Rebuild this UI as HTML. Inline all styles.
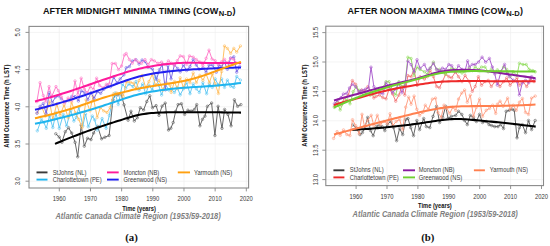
<!DOCTYPE html>
<html><head><meta charset="utf-8"><style>
html,body{margin:0;padding:0;background:#fff;width:550px;height:246px;overflow:hidden}
svg{display:block}
</style></head><body>
<svg width="550" height="246" viewBox="0 0 550 246" font-family='"Liberation Sans", sans-serif'>
<rect width="550" height="246" fill="#fff"/>
<line x1="59.30" y1="26.4" x2="59.30" y2="188.0" stroke="#efefef" stroke-width="0.7"/>
<line x1="90.47" y1="26.4" x2="90.47" y2="188.0" stroke="#efefef" stroke-width="0.7"/>
<line x1="121.64" y1="26.4" x2="121.64" y2="188.0" stroke="#efefef" stroke-width="0.7"/>
<line x1="152.81" y1="26.4" x2="152.81" y2="188.0" stroke="#efefef" stroke-width="0.7"/>
<line x1="183.98" y1="26.4" x2="183.98" y2="188.0" stroke="#efefef" stroke-width="0.7"/>
<line x1="215.15" y1="26.4" x2="215.15" y2="188.0" stroke="#efefef" stroke-width="0.7"/>
<line x1="246.32" y1="26.4" x2="246.32" y2="188.0" stroke="#efefef" stroke-width="0.7"/>
<line x1="29" y1="181.20" x2="248.6" y2="181.20" stroke="#efefef" stroke-width="0.7"/>
<line x1="29" y1="144.00" x2="248.6" y2="144.00" stroke="#efefef" stroke-width="0.7"/>
<line x1="29" y1="106.80" x2="248.6" y2="106.80" stroke="#efefef" stroke-width="0.7"/>
<line x1="29" y1="69.60" x2="248.6" y2="69.60" stroke="#efefef" stroke-width="0.7"/>
<line x1="29" y1="32.40" x2="248.6" y2="32.40" stroke="#efefef" stroke-width="0.7"/>
<rect x="29" y="26.4" width="219.6" height="161.6" fill="none" stroke="#8a8a8a" stroke-width="1.1"/>
<line x1="59.30" y1="188.0" x2="59.30" y2="191.4" stroke="#888" stroke-width="0.9"/>
<text transform="translate(59.30,200.5) scale(1,1.2)" font-size="5.9" fill="#3a3a3a" text-anchor="middle">1960</text>
<line x1="90.47" y1="188.0" x2="90.47" y2="191.4" stroke="#888" stroke-width="0.9"/>
<text transform="translate(90.47,200.5) scale(1,1.2)" font-size="5.9" fill="#3a3a3a" text-anchor="middle">1970</text>
<line x1="121.64" y1="188.0" x2="121.64" y2="191.4" stroke="#888" stroke-width="0.9"/>
<text transform="translate(121.64,200.5) scale(1,1.2)" font-size="5.9" fill="#3a3a3a" text-anchor="middle">1980</text>
<line x1="152.81" y1="188.0" x2="152.81" y2="191.4" stroke="#888" stroke-width="0.9"/>
<text transform="translate(152.81,200.5) scale(1,1.2)" font-size="5.9" fill="#3a3a3a" text-anchor="middle">1990</text>
<line x1="183.98" y1="188.0" x2="183.98" y2="191.4" stroke="#888" stroke-width="0.9"/>
<text transform="translate(183.98,200.5) scale(1,1.2)" font-size="5.9" fill="#3a3a3a" text-anchor="middle">2000</text>
<line x1="215.15" y1="188.0" x2="215.15" y2="191.4" stroke="#888" stroke-width="0.9"/>
<text transform="translate(215.15,200.5) scale(1,1.2)" font-size="5.9" fill="#3a3a3a" text-anchor="middle">2010</text>
<line x1="246.32" y1="188.0" x2="246.32" y2="191.4" stroke="#888" stroke-width="0.9"/>
<text transform="translate(246.32,200.5) scale(1,1.2)" font-size="5.9" fill="#3a3a3a" text-anchor="middle">2020</text>
<line x1="25.5" y1="181.20" x2="29" y2="181.20" stroke="#888" stroke-width="0.9"/>
<text transform="translate(19.8,181.20) rotate(-90) scale(1,1.2)" font-size="5.9" fill="#3a3a3a" text-anchor="middle">3.0</text>
<line x1="25.5" y1="144.00" x2="29" y2="144.00" stroke="#888" stroke-width="0.9"/>
<text transform="translate(19.8,144.00) rotate(-90) scale(1,1.2)" font-size="5.9" fill="#3a3a3a" text-anchor="middle">3.5</text>
<line x1="25.5" y1="106.80" x2="29" y2="106.80" stroke="#888" stroke-width="0.9"/>
<text transform="translate(19.8,106.80) rotate(-90) scale(1,1.2)" font-size="5.9" fill="#3a3a3a" text-anchor="middle">4.0</text>
<line x1="25.5" y1="69.60" x2="29" y2="69.60" stroke="#888" stroke-width="0.9"/>
<text transform="translate(19.8,69.60) rotate(-90) scale(1,1.2)" font-size="5.9" fill="#3a3a3a" text-anchor="middle">4.5</text>
<line x1="25.5" y1="32.40" x2="29" y2="32.40" stroke="#888" stroke-width="0.9"/>
<text transform="translate(19.8,32.40) rotate(-90) scale(1,1.2)" font-size="5.9" fill="#3a3a3a" text-anchor="middle">5.0</text>
<path d="M55.80,133.80 L59.20,137.00 L61.90,142.30 L65.30,131.70 L68.50,127.70 L71.70,133.00 L75.10,142.30 L77.70,156.80 L81.20,125.10 L84.30,146.20 L87.50,138.30 L91.00,139.60 L93.60,133.00 L97.60,126.40 L101.60,138.80 L104.90,137.20 L109.10,135.50 L113.00,99.80 L115.45,94.54 L117.90,94.90 L121.10,93.90 L124.00,104.80 L128.10,120.20 L131.00,111.30 L134.30,121.00 L137.30,117.73 L140.30,107.70 L143.60,110.00 L146.80,101.50 L149.80,95.80 L152.50,107.70 L156.10,105.60 L159.00,115.30 L162.10,106.07 L165.20,103.10 L168.50,130.00 L170.85,128.22 L173.20,122.50 L175.65,111.42 L178.10,104.60 L181.40,103.70 L184.60,114.40 L187.90,110.20 L191.10,111.10 L194.40,109.50 L196.70,104.60 L199.90,125.80 L202.50,119.30 L204.95,116.13 L207.40,106.30 L211.60,103.00 L214.90,135.50 L218.10,106.30 L222.00,128.40 L224.60,109.50 L227.90,114.40 L231.10,125.80 L234.40,99.80 L237.60,106.30 L240.90,104.60" fill="none" stroke="#5e5e5e" stroke-width="0.95"/>
<circle cx="55.80" cy="133.80" r="1.25" fill="none" stroke="#5e5e5e" stroke-width="0.6"/>
<circle cx="59.20" cy="137.00" r="1.25" fill="none" stroke="#5e5e5e" stroke-width="0.6"/>
<circle cx="61.90" cy="142.30" r="1.25" fill="none" stroke="#5e5e5e" stroke-width="0.6"/>
<circle cx="65.30" cy="131.70" r="1.25" fill="none" stroke="#5e5e5e" stroke-width="0.6"/>
<circle cx="68.50" cy="127.70" r="1.25" fill="none" stroke="#5e5e5e" stroke-width="0.6"/>
<circle cx="71.70" cy="133.00" r="1.25" fill="none" stroke="#5e5e5e" stroke-width="0.6"/>
<circle cx="75.10" cy="142.30" r="1.25" fill="none" stroke="#5e5e5e" stroke-width="0.6"/>
<circle cx="77.70" cy="156.80" r="1.25" fill="none" stroke="#5e5e5e" stroke-width="0.6"/>
<circle cx="81.20" cy="125.10" r="1.25" fill="none" stroke="#5e5e5e" stroke-width="0.6"/>
<circle cx="84.30" cy="146.20" r="1.25" fill="none" stroke="#5e5e5e" stroke-width="0.6"/>
<circle cx="87.50" cy="138.30" r="1.25" fill="none" stroke="#5e5e5e" stroke-width="0.6"/>
<circle cx="91.00" cy="139.60" r="1.25" fill="none" stroke="#5e5e5e" stroke-width="0.6"/>
<circle cx="93.60" cy="133.00" r="1.25" fill="none" stroke="#5e5e5e" stroke-width="0.6"/>
<circle cx="97.60" cy="126.40" r="1.25" fill="none" stroke="#5e5e5e" stroke-width="0.6"/>
<circle cx="101.60" cy="138.80" r="1.25" fill="none" stroke="#5e5e5e" stroke-width="0.6"/>
<circle cx="104.90" cy="137.20" r="1.25" fill="none" stroke="#5e5e5e" stroke-width="0.6"/>
<circle cx="109.10" cy="135.50" r="1.25" fill="none" stroke="#5e5e5e" stroke-width="0.6"/>
<circle cx="113.00" cy="99.80" r="1.25" fill="none" stroke="#5e5e5e" stroke-width="0.6"/>
<circle cx="115.45" cy="94.54" r="1.25" fill="none" stroke="#5e5e5e" stroke-width="0.6"/>
<circle cx="117.90" cy="94.90" r="1.25" fill="none" stroke="#5e5e5e" stroke-width="0.6"/>
<circle cx="121.10" cy="93.90" r="1.25" fill="none" stroke="#5e5e5e" stroke-width="0.6"/>
<circle cx="124.00" cy="104.80" r="1.25" fill="none" stroke="#5e5e5e" stroke-width="0.6"/>
<circle cx="128.10" cy="120.20" r="1.25" fill="none" stroke="#5e5e5e" stroke-width="0.6"/>
<circle cx="131.00" cy="111.30" r="1.25" fill="none" stroke="#5e5e5e" stroke-width="0.6"/>
<circle cx="134.30" cy="121.00" r="1.25" fill="none" stroke="#5e5e5e" stroke-width="0.6"/>
<circle cx="137.30" cy="117.73" r="1.25" fill="none" stroke="#5e5e5e" stroke-width="0.6"/>
<circle cx="140.30" cy="107.70" r="1.25" fill="none" stroke="#5e5e5e" stroke-width="0.6"/>
<circle cx="143.60" cy="110.00" r="1.25" fill="none" stroke="#5e5e5e" stroke-width="0.6"/>
<circle cx="146.80" cy="101.50" r="1.25" fill="none" stroke="#5e5e5e" stroke-width="0.6"/>
<circle cx="149.80" cy="95.80" r="1.25" fill="none" stroke="#5e5e5e" stroke-width="0.6"/>
<circle cx="152.50" cy="107.70" r="1.25" fill="none" stroke="#5e5e5e" stroke-width="0.6"/>
<circle cx="156.10" cy="105.60" r="1.25" fill="none" stroke="#5e5e5e" stroke-width="0.6"/>
<circle cx="159.00" cy="115.30" r="1.25" fill="none" stroke="#5e5e5e" stroke-width="0.6"/>
<circle cx="162.10" cy="106.07" r="1.25" fill="none" stroke="#5e5e5e" stroke-width="0.6"/>
<circle cx="165.20" cy="103.10" r="1.25" fill="none" stroke="#5e5e5e" stroke-width="0.6"/>
<circle cx="168.50" cy="130.00" r="1.25" fill="none" stroke="#5e5e5e" stroke-width="0.6"/>
<circle cx="170.85" cy="128.22" r="1.25" fill="none" stroke="#5e5e5e" stroke-width="0.6"/>
<circle cx="173.20" cy="122.50" r="1.25" fill="none" stroke="#5e5e5e" stroke-width="0.6"/>
<circle cx="175.65" cy="111.42" r="1.25" fill="none" stroke="#5e5e5e" stroke-width="0.6"/>
<circle cx="178.10" cy="104.60" r="1.25" fill="none" stroke="#5e5e5e" stroke-width="0.6"/>
<circle cx="181.40" cy="103.70" r="1.25" fill="none" stroke="#5e5e5e" stroke-width="0.6"/>
<circle cx="184.60" cy="114.40" r="1.25" fill="none" stroke="#5e5e5e" stroke-width="0.6"/>
<circle cx="187.90" cy="110.20" r="1.25" fill="none" stroke="#5e5e5e" stroke-width="0.6"/>
<circle cx="191.10" cy="111.10" r="1.25" fill="none" stroke="#5e5e5e" stroke-width="0.6"/>
<circle cx="194.40" cy="109.50" r="1.25" fill="none" stroke="#5e5e5e" stroke-width="0.6"/>
<circle cx="196.70" cy="104.60" r="1.25" fill="none" stroke="#5e5e5e" stroke-width="0.6"/>
<circle cx="199.90" cy="125.80" r="1.25" fill="none" stroke="#5e5e5e" stroke-width="0.6"/>
<circle cx="202.50" cy="119.30" r="1.25" fill="none" stroke="#5e5e5e" stroke-width="0.6"/>
<circle cx="204.95" cy="116.13" r="1.25" fill="none" stroke="#5e5e5e" stroke-width="0.6"/>
<circle cx="207.40" cy="106.30" r="1.25" fill="none" stroke="#5e5e5e" stroke-width="0.6"/>
<circle cx="211.60" cy="103.00" r="1.25" fill="none" stroke="#5e5e5e" stroke-width="0.6"/>
<circle cx="214.90" cy="135.50" r="1.25" fill="none" stroke="#5e5e5e" stroke-width="0.6"/>
<circle cx="218.10" cy="106.30" r="1.25" fill="none" stroke="#5e5e5e" stroke-width="0.6"/>
<circle cx="222.00" cy="128.40" r="1.25" fill="none" stroke="#5e5e5e" stroke-width="0.6"/>
<circle cx="224.60" cy="109.50" r="1.25" fill="none" stroke="#5e5e5e" stroke-width="0.6"/>
<circle cx="227.90" cy="114.40" r="1.25" fill="none" stroke="#5e5e5e" stroke-width="0.6"/>
<circle cx="231.10" cy="125.80" r="1.25" fill="none" stroke="#5e5e5e" stroke-width="0.6"/>
<circle cx="234.40" cy="99.80" r="1.25" fill="none" stroke="#5e5e5e" stroke-width="0.6"/>
<circle cx="237.60" cy="106.30" r="1.25" fill="none" stroke="#5e5e5e" stroke-width="0.6"/>
<circle cx="240.90" cy="104.60" r="1.25" fill="none" stroke="#5e5e5e" stroke-width="0.6"/>
<path d="M37.30,130.80 L41.40,119.40 L43.85,122.34 L46.30,128.30 L49.50,116.10 L52.80,127.50 L56.00,112.90 L59.30,128.30 L63.30,114.50 L66.60,125.90 L70.70,110.40 L73.90,121.00 L76.35,117.32 L78.80,107.20 L82.80,125.90 L85.50,114.00 L88.30,126.70 L92.30,116.10 L94.75,119.88 L97.20,130.00 L99.65,126.78 L102.10,118.60 L106.10,128.30 L109.40,115.30 L111.50,104.80 L115.10,93.00 L118.30,104.40 L122.40,84.10 L125.70,88.10 L128.90,84.10 L133.00,86.50 L136.00,81.60 L139.10,90.10 L142.60,84.00 L145.70,93.80 L148.90,85.20 L152.30,90.10 L155.50,76.70 L158.70,85.20 L161.60,95.00 L165.20,84.00 L168.90,90.10 L171.20,88.80 L174.40,92.40 L177.30,87.60 L180.20,94.90 L183.40,88.80 L186.60,82.70 L190.00,93.70 L193.20,83.90 L196.30,88.80 L199.30,92.40 L202.90,82.70 L206.60,93.70 L209.40,83.80 L212.30,87.40 L215.20,78.90 L218.40,85.00 L221.60,78.90 L224.50,87.40 L227.40,80.10 L230.60,86.20 L233.80,87.40 L236.70,76.50 L240.40,80.10" fill="none" stroke="#5cc6f2" stroke-width="0.95"/>
<circle cx="37.30" cy="130.80" r="1.25" fill="none" stroke="#5cc6f2" stroke-width="0.6"/>
<circle cx="41.40" cy="119.40" r="1.25" fill="none" stroke="#5cc6f2" stroke-width="0.6"/>
<circle cx="43.85" cy="122.34" r="1.25" fill="none" stroke="#5cc6f2" stroke-width="0.6"/>
<circle cx="46.30" cy="128.30" r="1.25" fill="none" stroke="#5cc6f2" stroke-width="0.6"/>
<circle cx="49.50" cy="116.10" r="1.25" fill="none" stroke="#5cc6f2" stroke-width="0.6"/>
<circle cx="52.80" cy="127.50" r="1.25" fill="none" stroke="#5cc6f2" stroke-width="0.6"/>
<circle cx="56.00" cy="112.90" r="1.25" fill="none" stroke="#5cc6f2" stroke-width="0.6"/>
<circle cx="59.30" cy="128.30" r="1.25" fill="none" stroke="#5cc6f2" stroke-width="0.6"/>
<circle cx="63.30" cy="114.50" r="1.25" fill="none" stroke="#5cc6f2" stroke-width="0.6"/>
<circle cx="66.60" cy="125.90" r="1.25" fill="none" stroke="#5cc6f2" stroke-width="0.6"/>
<circle cx="70.70" cy="110.40" r="1.25" fill="none" stroke="#5cc6f2" stroke-width="0.6"/>
<circle cx="73.90" cy="121.00" r="1.25" fill="none" stroke="#5cc6f2" stroke-width="0.6"/>
<circle cx="76.35" cy="117.32" r="1.25" fill="none" stroke="#5cc6f2" stroke-width="0.6"/>
<circle cx="78.80" cy="107.20" r="1.25" fill="none" stroke="#5cc6f2" stroke-width="0.6"/>
<circle cx="82.80" cy="125.90" r="1.25" fill="none" stroke="#5cc6f2" stroke-width="0.6"/>
<circle cx="85.50" cy="114.00" r="1.25" fill="none" stroke="#5cc6f2" stroke-width="0.6"/>
<circle cx="88.30" cy="126.70" r="1.25" fill="none" stroke="#5cc6f2" stroke-width="0.6"/>
<circle cx="92.30" cy="116.10" r="1.25" fill="none" stroke="#5cc6f2" stroke-width="0.6"/>
<circle cx="94.75" cy="119.88" r="1.25" fill="none" stroke="#5cc6f2" stroke-width="0.6"/>
<circle cx="97.20" cy="130.00" r="1.25" fill="none" stroke="#5cc6f2" stroke-width="0.6"/>
<circle cx="99.65" cy="126.78" r="1.25" fill="none" stroke="#5cc6f2" stroke-width="0.6"/>
<circle cx="102.10" cy="118.60" r="1.25" fill="none" stroke="#5cc6f2" stroke-width="0.6"/>
<circle cx="106.10" cy="128.30" r="1.25" fill="none" stroke="#5cc6f2" stroke-width="0.6"/>
<circle cx="109.40" cy="115.30" r="1.25" fill="none" stroke="#5cc6f2" stroke-width="0.6"/>
<circle cx="111.50" cy="104.80" r="1.25" fill="none" stroke="#5cc6f2" stroke-width="0.6"/>
<circle cx="115.10" cy="93.00" r="1.25" fill="none" stroke="#5cc6f2" stroke-width="0.6"/>
<circle cx="118.30" cy="104.40" r="1.25" fill="none" stroke="#5cc6f2" stroke-width="0.6"/>
<circle cx="122.40" cy="84.10" r="1.25" fill="none" stroke="#5cc6f2" stroke-width="0.6"/>
<circle cx="125.70" cy="88.10" r="1.25" fill="none" stroke="#5cc6f2" stroke-width="0.6"/>
<circle cx="128.90" cy="84.10" r="1.25" fill="none" stroke="#5cc6f2" stroke-width="0.6"/>
<circle cx="133.00" cy="86.50" r="1.25" fill="none" stroke="#5cc6f2" stroke-width="0.6"/>
<circle cx="136.00" cy="81.60" r="1.25" fill="none" stroke="#5cc6f2" stroke-width="0.6"/>
<circle cx="139.10" cy="90.10" r="1.25" fill="none" stroke="#5cc6f2" stroke-width="0.6"/>
<circle cx="142.60" cy="84.00" r="1.25" fill="none" stroke="#5cc6f2" stroke-width="0.6"/>
<circle cx="145.70" cy="93.80" r="1.25" fill="none" stroke="#5cc6f2" stroke-width="0.6"/>
<circle cx="148.90" cy="85.20" r="1.25" fill="none" stroke="#5cc6f2" stroke-width="0.6"/>
<circle cx="152.30" cy="90.10" r="1.25" fill="none" stroke="#5cc6f2" stroke-width="0.6"/>
<circle cx="155.50" cy="76.70" r="1.25" fill="none" stroke="#5cc6f2" stroke-width="0.6"/>
<circle cx="158.70" cy="85.20" r="1.25" fill="none" stroke="#5cc6f2" stroke-width="0.6"/>
<circle cx="161.60" cy="95.00" r="1.25" fill="none" stroke="#5cc6f2" stroke-width="0.6"/>
<circle cx="165.20" cy="84.00" r="1.25" fill="none" stroke="#5cc6f2" stroke-width="0.6"/>
<circle cx="168.90" cy="90.10" r="1.25" fill="none" stroke="#5cc6f2" stroke-width="0.6"/>
<circle cx="171.20" cy="88.80" r="1.25" fill="none" stroke="#5cc6f2" stroke-width="0.6"/>
<circle cx="174.40" cy="92.40" r="1.25" fill="none" stroke="#5cc6f2" stroke-width="0.6"/>
<circle cx="177.30" cy="87.60" r="1.25" fill="none" stroke="#5cc6f2" stroke-width="0.6"/>
<circle cx="180.20" cy="94.90" r="1.25" fill="none" stroke="#5cc6f2" stroke-width="0.6"/>
<circle cx="183.40" cy="88.80" r="1.25" fill="none" stroke="#5cc6f2" stroke-width="0.6"/>
<circle cx="186.60" cy="82.70" r="1.25" fill="none" stroke="#5cc6f2" stroke-width="0.6"/>
<circle cx="190.00" cy="93.70" r="1.25" fill="none" stroke="#5cc6f2" stroke-width="0.6"/>
<circle cx="193.20" cy="83.90" r="1.25" fill="none" stroke="#5cc6f2" stroke-width="0.6"/>
<circle cx="196.30" cy="88.80" r="1.25" fill="none" stroke="#5cc6f2" stroke-width="0.6"/>
<circle cx="199.30" cy="92.40" r="1.25" fill="none" stroke="#5cc6f2" stroke-width="0.6"/>
<circle cx="202.90" cy="82.70" r="1.25" fill="none" stroke="#5cc6f2" stroke-width="0.6"/>
<circle cx="206.60" cy="93.70" r="1.25" fill="none" stroke="#5cc6f2" stroke-width="0.6"/>
<circle cx="209.40" cy="83.80" r="1.25" fill="none" stroke="#5cc6f2" stroke-width="0.6"/>
<circle cx="212.30" cy="87.40" r="1.25" fill="none" stroke="#5cc6f2" stroke-width="0.6"/>
<circle cx="215.20" cy="78.90" r="1.25" fill="none" stroke="#5cc6f2" stroke-width="0.6"/>
<circle cx="218.40" cy="85.00" r="1.25" fill="none" stroke="#5cc6f2" stroke-width="0.6"/>
<circle cx="221.60" cy="78.90" r="1.25" fill="none" stroke="#5cc6f2" stroke-width="0.6"/>
<circle cx="224.50" cy="87.40" r="1.25" fill="none" stroke="#5cc6f2" stroke-width="0.6"/>
<circle cx="227.40" cy="80.10" r="1.25" fill="none" stroke="#5cc6f2" stroke-width="0.6"/>
<circle cx="230.60" cy="86.20" r="1.25" fill="none" stroke="#5cc6f2" stroke-width="0.6"/>
<circle cx="233.80" cy="87.40" r="1.25" fill="none" stroke="#5cc6f2" stroke-width="0.6"/>
<circle cx="236.70" cy="76.50" r="1.25" fill="none" stroke="#5cc6f2" stroke-width="0.6"/>
<circle cx="240.40" cy="80.10" r="1.25" fill="none" stroke="#5cc6f2" stroke-width="0.6"/>
<path d="M37.30,112.90 L39.75,108.31 L42.20,108.00 L45.40,116.10 L49.50,101.50 L52.80,119.40 L56.80,103.90 L60.10,115.30 L64.10,104.80 L68.20,117.80 L71.50,102.30 L75.50,112.90 L78.80,119.40 L82.00,127.50 L86.10,99.90 L89.90,110.90 L93.10,96.30 L97.20,117.40 L100.40,107.60 L103.70,110.90 L107.00,112.50 L110.20,107.60 L113.50,93.80 L116.70,93.00 L120.00,93.80 L123.20,96.30 L126.50,81.60 L130.50,82.40 L133.80,83.30 L136.00,88.90 L139.10,80.40 L142.10,75.50 L145.70,87.70 L148.90,81.60 L152.30,74.30 L155.50,85.20 L159.10,80.40 L162.80,90.10 L166.50,82.80 L170.10,85.20 L171.20,92.40 L174.40,81.50 L177.30,88.80 L180.20,77.80 L183.40,87.60 L186.60,79.00 L190.00,82.70 L193.20,72.90 L196.30,82.70 L199.80,75.40 L202.90,80.20 L206.10,74.10 L209.40,82.60 L212.30,74.00 L215.20,83.80 L218.40,93.50 L221.60,71.60 L224.50,46.00 L227.40,48.40 L230.60,53.30 L233.80,48.40 L236.70,52.10 L240.40,46.00" fill="none" stroke="#ffbd5c" stroke-width="0.95"/>
<circle cx="37.30" cy="112.90" r="1.25" fill="none" stroke="#ffbd5c" stroke-width="0.6"/>
<circle cx="39.75" cy="108.31" r="1.25" fill="none" stroke="#ffbd5c" stroke-width="0.6"/>
<circle cx="42.20" cy="108.00" r="1.25" fill="none" stroke="#ffbd5c" stroke-width="0.6"/>
<circle cx="45.40" cy="116.10" r="1.25" fill="none" stroke="#ffbd5c" stroke-width="0.6"/>
<circle cx="49.50" cy="101.50" r="1.25" fill="none" stroke="#ffbd5c" stroke-width="0.6"/>
<circle cx="52.80" cy="119.40" r="1.25" fill="none" stroke="#ffbd5c" stroke-width="0.6"/>
<circle cx="56.80" cy="103.90" r="1.25" fill="none" stroke="#ffbd5c" stroke-width="0.6"/>
<circle cx="60.10" cy="115.30" r="1.25" fill="none" stroke="#ffbd5c" stroke-width="0.6"/>
<circle cx="64.10" cy="104.80" r="1.25" fill="none" stroke="#ffbd5c" stroke-width="0.6"/>
<circle cx="68.20" cy="117.80" r="1.25" fill="none" stroke="#ffbd5c" stroke-width="0.6"/>
<circle cx="71.50" cy="102.30" r="1.25" fill="none" stroke="#ffbd5c" stroke-width="0.6"/>
<circle cx="75.50" cy="112.90" r="1.25" fill="none" stroke="#ffbd5c" stroke-width="0.6"/>
<circle cx="78.80" cy="119.40" r="1.25" fill="none" stroke="#ffbd5c" stroke-width="0.6"/>
<circle cx="82.00" cy="127.50" r="1.25" fill="none" stroke="#ffbd5c" stroke-width="0.6"/>
<circle cx="86.10" cy="99.90" r="1.25" fill="none" stroke="#ffbd5c" stroke-width="0.6"/>
<circle cx="89.90" cy="110.90" r="1.25" fill="none" stroke="#ffbd5c" stroke-width="0.6"/>
<circle cx="93.10" cy="96.30" r="1.25" fill="none" stroke="#ffbd5c" stroke-width="0.6"/>
<circle cx="97.20" cy="117.40" r="1.25" fill="none" stroke="#ffbd5c" stroke-width="0.6"/>
<circle cx="100.40" cy="107.60" r="1.25" fill="none" stroke="#ffbd5c" stroke-width="0.6"/>
<circle cx="103.70" cy="110.90" r="1.25" fill="none" stroke="#ffbd5c" stroke-width="0.6"/>
<circle cx="107.00" cy="112.50" r="1.25" fill="none" stroke="#ffbd5c" stroke-width="0.6"/>
<circle cx="110.20" cy="107.60" r="1.25" fill="none" stroke="#ffbd5c" stroke-width="0.6"/>
<circle cx="113.50" cy="93.80" r="1.25" fill="none" stroke="#ffbd5c" stroke-width="0.6"/>
<circle cx="116.70" cy="93.00" r="1.25" fill="none" stroke="#ffbd5c" stroke-width="0.6"/>
<circle cx="120.00" cy="93.80" r="1.25" fill="none" stroke="#ffbd5c" stroke-width="0.6"/>
<circle cx="123.20" cy="96.30" r="1.25" fill="none" stroke="#ffbd5c" stroke-width="0.6"/>
<circle cx="126.50" cy="81.60" r="1.25" fill="none" stroke="#ffbd5c" stroke-width="0.6"/>
<circle cx="130.50" cy="82.40" r="1.25" fill="none" stroke="#ffbd5c" stroke-width="0.6"/>
<circle cx="133.80" cy="83.30" r="1.25" fill="none" stroke="#ffbd5c" stroke-width="0.6"/>
<circle cx="136.00" cy="88.90" r="1.25" fill="none" stroke="#ffbd5c" stroke-width="0.6"/>
<circle cx="139.10" cy="80.40" r="1.25" fill="none" stroke="#ffbd5c" stroke-width="0.6"/>
<circle cx="142.10" cy="75.50" r="1.25" fill="none" stroke="#ffbd5c" stroke-width="0.6"/>
<circle cx="145.70" cy="87.70" r="1.25" fill="none" stroke="#ffbd5c" stroke-width="0.6"/>
<circle cx="148.90" cy="81.60" r="1.25" fill="none" stroke="#ffbd5c" stroke-width="0.6"/>
<circle cx="152.30" cy="74.30" r="1.25" fill="none" stroke="#ffbd5c" stroke-width="0.6"/>
<circle cx="155.50" cy="85.20" r="1.25" fill="none" stroke="#ffbd5c" stroke-width="0.6"/>
<circle cx="159.10" cy="80.40" r="1.25" fill="none" stroke="#ffbd5c" stroke-width="0.6"/>
<circle cx="162.80" cy="90.10" r="1.25" fill="none" stroke="#ffbd5c" stroke-width="0.6"/>
<circle cx="166.50" cy="82.80" r="1.25" fill="none" stroke="#ffbd5c" stroke-width="0.6"/>
<circle cx="170.10" cy="85.20" r="1.25" fill="none" stroke="#ffbd5c" stroke-width="0.6"/>
<circle cx="171.20" cy="92.40" r="1.25" fill="none" stroke="#ffbd5c" stroke-width="0.6"/>
<circle cx="174.40" cy="81.50" r="1.25" fill="none" stroke="#ffbd5c" stroke-width="0.6"/>
<circle cx="177.30" cy="88.80" r="1.25" fill="none" stroke="#ffbd5c" stroke-width="0.6"/>
<circle cx="180.20" cy="77.80" r="1.25" fill="none" stroke="#ffbd5c" stroke-width="0.6"/>
<circle cx="183.40" cy="87.60" r="1.25" fill="none" stroke="#ffbd5c" stroke-width="0.6"/>
<circle cx="186.60" cy="79.00" r="1.25" fill="none" stroke="#ffbd5c" stroke-width="0.6"/>
<circle cx="190.00" cy="82.70" r="1.25" fill="none" stroke="#ffbd5c" stroke-width="0.6"/>
<circle cx="193.20" cy="72.90" r="1.25" fill="none" stroke="#ffbd5c" stroke-width="0.6"/>
<circle cx="196.30" cy="82.70" r="1.25" fill="none" stroke="#ffbd5c" stroke-width="0.6"/>
<circle cx="199.80" cy="75.40" r="1.25" fill="none" stroke="#ffbd5c" stroke-width="0.6"/>
<circle cx="202.90" cy="80.20" r="1.25" fill="none" stroke="#ffbd5c" stroke-width="0.6"/>
<circle cx="206.10" cy="74.10" r="1.25" fill="none" stroke="#ffbd5c" stroke-width="0.6"/>
<circle cx="209.40" cy="82.60" r="1.25" fill="none" stroke="#ffbd5c" stroke-width="0.6"/>
<circle cx="212.30" cy="74.00" r="1.25" fill="none" stroke="#ffbd5c" stroke-width="0.6"/>
<circle cx="215.20" cy="83.80" r="1.25" fill="none" stroke="#ffbd5c" stroke-width="0.6"/>
<circle cx="218.40" cy="93.50" r="1.25" fill="none" stroke="#ffbd5c" stroke-width="0.6"/>
<circle cx="221.60" cy="71.60" r="1.25" fill="none" stroke="#ffbd5c" stroke-width="0.6"/>
<circle cx="224.50" cy="46.00" r="1.25" fill="none" stroke="#ffbd5c" stroke-width="0.6"/>
<circle cx="227.40" cy="48.40" r="1.25" fill="none" stroke="#ffbd5c" stroke-width="0.6"/>
<circle cx="230.60" cy="53.30" r="1.25" fill="none" stroke="#ffbd5c" stroke-width="0.6"/>
<circle cx="233.80" cy="48.40" r="1.25" fill="none" stroke="#ffbd5c" stroke-width="0.6"/>
<circle cx="236.70" cy="52.10" r="1.25" fill="none" stroke="#ffbd5c" stroke-width="0.6"/>
<circle cx="240.40" cy="46.00" r="1.25" fill="none" stroke="#ffbd5c" stroke-width="0.6"/>
<path d="M36.90,113.21 L40.10,106.32 L43.30,103.58 L46.20,113.58 L49.10,92.66 L52.30,102.57 L55.50,97.07 L58.40,95.81 L61.30,98.81 L65.20,101.75 L68.60,100.52 L71.80,96.42 L75.00,96.57 L78.40,100.99 L81.20,90.89 L84.40,92.43 L87.80,99.62 L91.00,92.77 L94.10,98.56 L97.10,91.71 L100.70,93.27 L103.90,89.19 L107.30,85.23 L110.50,86.78 L113.70,77.18 L117.10,82.89 L120.20,78.92 L123.90,74.86 L126.20,67.74 L129.40,66.52 L132.30,61.03 L136.00,59.81 L139.10,64.08 L142.10,60.05 L145.00,61.53 L148.20,67.26 L152.40,68.99 L156.50,79.43 L159.50,69.61 L162.20,64.61 L165.40,89.85 L167.90,65.63 L171.10,78.80 L174.40,64.82 L177.60,68.54 L180.20,71.91 L183.40,64.94 L186.60,70.61 L190.00,66.39 L193.20,59.40 L196.30,65.06 L199.30,69.34 L202.90,67.87 L206.10,72.15 L209.00,65.16 L212.70,65.18 L216.30,72.22 L218.80,65.22 L221.60,66.50 L224.50,62.26 L227.40,69.29 L230.60,58.15 L233.80,56.79 L236.70,72.21 L239.60,66.59" fill="none" stroke="#7565e6" stroke-width="0.95"/>
<circle cx="36.90" cy="113.21" r="1.25" fill="none" stroke="#7565e6" stroke-width="0.6"/>
<circle cx="40.10" cy="106.32" r="1.25" fill="none" stroke="#7565e6" stroke-width="0.6"/>
<circle cx="43.30" cy="103.58" r="1.25" fill="none" stroke="#7565e6" stroke-width="0.6"/>
<circle cx="46.20" cy="113.58" r="1.25" fill="none" stroke="#7565e6" stroke-width="0.6"/>
<circle cx="49.10" cy="92.66" r="1.25" fill="none" stroke="#7565e6" stroke-width="0.6"/>
<circle cx="52.30" cy="102.57" r="1.25" fill="none" stroke="#7565e6" stroke-width="0.6"/>
<circle cx="55.50" cy="97.07" r="1.25" fill="none" stroke="#7565e6" stroke-width="0.6"/>
<circle cx="58.40" cy="95.81" r="1.25" fill="none" stroke="#7565e6" stroke-width="0.6"/>
<circle cx="61.30" cy="98.81" r="1.25" fill="none" stroke="#7565e6" stroke-width="0.6"/>
<circle cx="65.20" cy="101.75" r="1.25" fill="none" stroke="#7565e6" stroke-width="0.6"/>
<circle cx="68.60" cy="100.52" r="1.25" fill="none" stroke="#7565e6" stroke-width="0.6"/>
<circle cx="71.80" cy="96.42" r="1.25" fill="none" stroke="#7565e6" stroke-width="0.6"/>
<circle cx="75.00" cy="96.57" r="1.25" fill="none" stroke="#7565e6" stroke-width="0.6"/>
<circle cx="78.40" cy="100.99" r="1.25" fill="none" stroke="#7565e6" stroke-width="0.6"/>
<circle cx="81.20" cy="90.89" r="1.25" fill="none" stroke="#7565e6" stroke-width="0.6"/>
<circle cx="84.40" cy="92.43" r="1.25" fill="none" stroke="#7565e6" stroke-width="0.6"/>
<circle cx="87.80" cy="99.62" r="1.25" fill="none" stroke="#7565e6" stroke-width="0.6"/>
<circle cx="91.00" cy="92.77" r="1.25" fill="none" stroke="#7565e6" stroke-width="0.6"/>
<circle cx="94.10" cy="98.56" r="1.25" fill="none" stroke="#7565e6" stroke-width="0.6"/>
<circle cx="97.10" cy="91.71" r="1.25" fill="none" stroke="#7565e6" stroke-width="0.6"/>
<circle cx="100.70" cy="93.27" r="1.25" fill="none" stroke="#7565e6" stroke-width="0.6"/>
<circle cx="103.90" cy="89.19" r="1.25" fill="none" stroke="#7565e6" stroke-width="0.6"/>
<circle cx="107.30" cy="85.23" r="1.25" fill="none" stroke="#7565e6" stroke-width="0.6"/>
<circle cx="110.50" cy="86.78" r="1.25" fill="none" stroke="#7565e6" stroke-width="0.6"/>
<circle cx="113.70" cy="77.18" r="1.25" fill="none" stroke="#7565e6" stroke-width="0.6"/>
<circle cx="117.10" cy="82.89" r="1.25" fill="none" stroke="#7565e6" stroke-width="0.6"/>
<circle cx="120.20" cy="78.92" r="1.25" fill="none" stroke="#7565e6" stroke-width="0.6"/>
<circle cx="123.90" cy="74.86" r="1.25" fill="none" stroke="#7565e6" stroke-width="0.6"/>
<circle cx="126.20" cy="67.74" r="1.25" fill="none" stroke="#7565e6" stroke-width="0.6"/>
<circle cx="129.40" cy="66.52" r="1.25" fill="none" stroke="#7565e6" stroke-width="0.6"/>
<circle cx="132.30" cy="61.03" r="1.25" fill="none" stroke="#7565e6" stroke-width="0.6"/>
<circle cx="136.00" cy="59.81" r="1.25" fill="none" stroke="#7565e6" stroke-width="0.6"/>
<circle cx="139.10" cy="64.08" r="1.25" fill="none" stroke="#7565e6" stroke-width="0.6"/>
<circle cx="142.10" cy="60.05" r="1.25" fill="none" stroke="#7565e6" stroke-width="0.6"/>
<circle cx="145.00" cy="61.53" r="1.25" fill="none" stroke="#7565e6" stroke-width="0.6"/>
<circle cx="148.20" cy="67.26" r="1.25" fill="none" stroke="#7565e6" stroke-width="0.6"/>
<circle cx="152.40" cy="68.99" r="1.25" fill="none" stroke="#7565e6" stroke-width="0.6"/>
<circle cx="156.50" cy="79.43" r="1.25" fill="none" stroke="#7565e6" stroke-width="0.6"/>
<circle cx="159.50" cy="69.61" r="1.25" fill="none" stroke="#7565e6" stroke-width="0.6"/>
<circle cx="162.20" cy="64.61" r="1.25" fill="none" stroke="#7565e6" stroke-width="0.6"/>
<circle cx="165.40" cy="89.85" r="1.25" fill="none" stroke="#7565e6" stroke-width="0.6"/>
<circle cx="167.90" cy="65.63" r="1.25" fill="none" stroke="#7565e6" stroke-width="0.6"/>
<circle cx="171.10" cy="78.80" r="1.25" fill="none" stroke="#7565e6" stroke-width="0.6"/>
<circle cx="174.40" cy="64.82" r="1.25" fill="none" stroke="#7565e6" stroke-width="0.6"/>
<circle cx="177.60" cy="68.54" r="1.25" fill="none" stroke="#7565e6" stroke-width="0.6"/>
<circle cx="180.20" cy="71.91" r="1.25" fill="none" stroke="#7565e6" stroke-width="0.6"/>
<circle cx="183.40" cy="64.94" r="1.25" fill="none" stroke="#7565e6" stroke-width="0.6"/>
<circle cx="186.60" cy="70.61" r="1.25" fill="none" stroke="#7565e6" stroke-width="0.6"/>
<circle cx="190.00" cy="66.39" r="1.25" fill="none" stroke="#7565e6" stroke-width="0.6"/>
<circle cx="193.20" cy="59.40" r="1.25" fill="none" stroke="#7565e6" stroke-width="0.6"/>
<circle cx="196.30" cy="65.06" r="1.25" fill="none" stroke="#7565e6" stroke-width="0.6"/>
<circle cx="199.30" cy="69.34" r="1.25" fill="none" stroke="#7565e6" stroke-width="0.6"/>
<circle cx="202.90" cy="67.87" r="1.25" fill="none" stroke="#7565e6" stroke-width="0.6"/>
<circle cx="206.10" cy="72.15" r="1.25" fill="none" stroke="#7565e6" stroke-width="0.6"/>
<circle cx="209.00" cy="65.16" r="1.25" fill="none" stroke="#7565e6" stroke-width="0.6"/>
<circle cx="212.70" cy="65.18" r="1.25" fill="none" stroke="#7565e6" stroke-width="0.6"/>
<circle cx="216.30" cy="72.22" r="1.25" fill="none" stroke="#7565e6" stroke-width="0.6"/>
<circle cx="218.80" cy="65.22" r="1.25" fill="none" stroke="#7565e6" stroke-width="0.6"/>
<circle cx="221.60" cy="66.50" r="1.25" fill="none" stroke="#7565e6" stroke-width="0.6"/>
<circle cx="224.50" cy="62.26" r="1.25" fill="none" stroke="#7565e6" stroke-width="0.6"/>
<circle cx="227.40" cy="69.29" r="1.25" fill="none" stroke="#7565e6" stroke-width="0.6"/>
<circle cx="230.60" cy="58.15" r="1.25" fill="none" stroke="#7565e6" stroke-width="0.6"/>
<circle cx="233.80" cy="56.79" r="1.25" fill="none" stroke="#7565e6" stroke-width="0.6"/>
<circle cx="236.70" cy="72.21" r="1.25" fill="none" stroke="#7565e6" stroke-width="0.6"/>
<circle cx="239.60" cy="66.59" r="1.25" fill="none" stroke="#7565e6" stroke-width="0.6"/>
<path d="M36.90,101.70 L40.10,82.70 L43.30,95.60 L45.70,101.70 L49.10,86.60 L51.60,96.80 L56.00,86.60 L58.40,90.70 L61.30,96.80 L64.50,102.90 L68.10,98.00 L71.80,100.50 L75.00,81.00 L77.90,94.40 L81.20,78.20 L84.40,89.10 L87.30,92.80 L90.20,86.70 L93.40,89.10 L96.60,78.20 L99.50,85.50 L103.20,87.90 L106.30,84.30 L109.30,83.80 L112.20,63.50 L115.40,63.50 L118.50,69.60 L121.50,66.00 L124.40,55.00 L126.20,53.50 L129.40,59.60 L132.30,63.30 L135.20,59.60 L138.40,62.10 L141.60,63.30 L145.00,59.60 L148.20,64.50 L151.30,59.60 L154.30,60.90 L157.90,63.30 L161.60,62.10 L165.20,64.50 L168.40,60.90 L171.20,63.20 L174.40,65.60 L177.30,60.70 L180.20,55.90 L183.40,56.60 L186.60,64.40 L189.50,55.90 L193.20,57.10 L196.30,59.50 L199.80,62.00 L202.90,65.60 L206.10,58.30 L209.00,50.20 L212.00,59.00 L215.10,60.70 L218.30,64.40 L221.60,61.80 L224.50,59.40 L227.40,63.00 L230.60,58.20 L233.80,59.40 L236.70,63.00 L239.60,63.00" fill="none" stroke="#ff78c8" stroke-width="0.95"/>
<circle cx="36.90" cy="101.70" r="1.25" fill="none" stroke="#ff78c8" stroke-width="0.6"/>
<circle cx="40.10" cy="82.70" r="1.25" fill="none" stroke="#ff78c8" stroke-width="0.6"/>
<circle cx="43.30" cy="95.60" r="1.25" fill="none" stroke="#ff78c8" stroke-width="0.6"/>
<circle cx="45.70" cy="101.70" r="1.25" fill="none" stroke="#ff78c8" stroke-width="0.6"/>
<circle cx="49.10" cy="86.60" r="1.25" fill="none" stroke="#ff78c8" stroke-width="0.6"/>
<circle cx="51.60" cy="96.80" r="1.25" fill="none" stroke="#ff78c8" stroke-width="0.6"/>
<circle cx="56.00" cy="86.60" r="1.25" fill="none" stroke="#ff78c8" stroke-width="0.6"/>
<circle cx="58.40" cy="90.70" r="1.25" fill="none" stroke="#ff78c8" stroke-width="0.6"/>
<circle cx="61.30" cy="96.80" r="1.25" fill="none" stroke="#ff78c8" stroke-width="0.6"/>
<circle cx="64.50" cy="102.90" r="1.25" fill="none" stroke="#ff78c8" stroke-width="0.6"/>
<circle cx="68.10" cy="98.00" r="1.25" fill="none" stroke="#ff78c8" stroke-width="0.6"/>
<circle cx="71.80" cy="100.50" r="1.25" fill="none" stroke="#ff78c8" stroke-width="0.6"/>
<circle cx="75.00" cy="81.00" r="1.25" fill="none" stroke="#ff78c8" stroke-width="0.6"/>
<circle cx="77.90" cy="94.40" r="1.25" fill="none" stroke="#ff78c8" stroke-width="0.6"/>
<circle cx="81.20" cy="78.20" r="1.25" fill="none" stroke="#ff78c8" stroke-width="0.6"/>
<circle cx="84.40" cy="89.10" r="1.25" fill="none" stroke="#ff78c8" stroke-width="0.6"/>
<circle cx="87.30" cy="92.80" r="1.25" fill="none" stroke="#ff78c8" stroke-width="0.6"/>
<circle cx="90.20" cy="86.70" r="1.25" fill="none" stroke="#ff78c8" stroke-width="0.6"/>
<circle cx="93.40" cy="89.10" r="1.25" fill="none" stroke="#ff78c8" stroke-width="0.6"/>
<circle cx="96.60" cy="78.20" r="1.25" fill="none" stroke="#ff78c8" stroke-width="0.6"/>
<circle cx="99.50" cy="85.50" r="1.25" fill="none" stroke="#ff78c8" stroke-width="0.6"/>
<circle cx="103.20" cy="87.90" r="1.25" fill="none" stroke="#ff78c8" stroke-width="0.6"/>
<circle cx="106.30" cy="84.30" r="1.25" fill="none" stroke="#ff78c8" stroke-width="0.6"/>
<circle cx="109.30" cy="83.80" r="1.25" fill="none" stroke="#ff78c8" stroke-width="0.6"/>
<circle cx="112.20" cy="63.50" r="1.25" fill="none" stroke="#ff78c8" stroke-width="0.6"/>
<circle cx="115.40" cy="63.50" r="1.25" fill="none" stroke="#ff78c8" stroke-width="0.6"/>
<circle cx="118.50" cy="69.60" r="1.25" fill="none" stroke="#ff78c8" stroke-width="0.6"/>
<circle cx="121.50" cy="66.00" r="1.25" fill="none" stroke="#ff78c8" stroke-width="0.6"/>
<circle cx="124.40" cy="55.00" r="1.25" fill="none" stroke="#ff78c8" stroke-width="0.6"/>
<circle cx="126.20" cy="53.50" r="1.25" fill="none" stroke="#ff78c8" stroke-width="0.6"/>
<circle cx="129.40" cy="59.60" r="1.25" fill="none" stroke="#ff78c8" stroke-width="0.6"/>
<circle cx="132.30" cy="63.30" r="1.25" fill="none" stroke="#ff78c8" stroke-width="0.6"/>
<circle cx="135.20" cy="59.60" r="1.25" fill="none" stroke="#ff78c8" stroke-width="0.6"/>
<circle cx="138.40" cy="62.10" r="1.25" fill="none" stroke="#ff78c8" stroke-width="0.6"/>
<circle cx="141.60" cy="63.30" r="1.25" fill="none" stroke="#ff78c8" stroke-width="0.6"/>
<circle cx="145.00" cy="59.60" r="1.25" fill="none" stroke="#ff78c8" stroke-width="0.6"/>
<circle cx="148.20" cy="64.50" r="1.25" fill="none" stroke="#ff78c8" stroke-width="0.6"/>
<circle cx="151.30" cy="59.60" r="1.25" fill="none" stroke="#ff78c8" stroke-width="0.6"/>
<circle cx="154.30" cy="60.90" r="1.25" fill="none" stroke="#ff78c8" stroke-width="0.6"/>
<circle cx="157.90" cy="63.30" r="1.25" fill="none" stroke="#ff78c8" stroke-width="0.6"/>
<circle cx="161.60" cy="62.10" r="1.25" fill="none" stroke="#ff78c8" stroke-width="0.6"/>
<circle cx="165.20" cy="64.50" r="1.25" fill="none" stroke="#ff78c8" stroke-width="0.6"/>
<circle cx="168.40" cy="60.90" r="1.25" fill="none" stroke="#ff78c8" stroke-width="0.6"/>
<circle cx="171.20" cy="63.20" r="1.25" fill="none" stroke="#ff78c8" stroke-width="0.6"/>
<circle cx="174.40" cy="65.60" r="1.25" fill="none" stroke="#ff78c8" stroke-width="0.6"/>
<circle cx="177.30" cy="60.70" r="1.25" fill="none" stroke="#ff78c8" stroke-width="0.6"/>
<circle cx="180.20" cy="55.90" r="1.25" fill="none" stroke="#ff78c8" stroke-width="0.6"/>
<circle cx="183.40" cy="56.60" r="1.25" fill="none" stroke="#ff78c8" stroke-width="0.6"/>
<circle cx="186.60" cy="64.40" r="1.25" fill="none" stroke="#ff78c8" stroke-width="0.6"/>
<circle cx="189.50" cy="55.90" r="1.25" fill="none" stroke="#ff78c8" stroke-width="0.6"/>
<circle cx="193.20" cy="57.10" r="1.25" fill="none" stroke="#ff78c8" stroke-width="0.6"/>
<circle cx="196.30" cy="59.50" r="1.25" fill="none" stroke="#ff78c8" stroke-width="0.6"/>
<circle cx="199.80" cy="62.00" r="1.25" fill="none" stroke="#ff78c8" stroke-width="0.6"/>
<circle cx="202.90" cy="65.60" r="1.25" fill="none" stroke="#ff78c8" stroke-width="0.6"/>
<circle cx="206.10" cy="58.30" r="1.25" fill="none" stroke="#ff78c8" stroke-width="0.6"/>
<circle cx="209.00" cy="50.20" r="1.25" fill="none" stroke="#ff78c8" stroke-width="0.6"/>
<circle cx="212.00" cy="59.00" r="1.25" fill="none" stroke="#ff78c8" stroke-width="0.6"/>
<circle cx="215.10" cy="60.70" r="1.25" fill="none" stroke="#ff78c8" stroke-width="0.6"/>
<circle cx="218.30" cy="64.40" r="1.25" fill="none" stroke="#ff78c8" stroke-width="0.6"/>
<circle cx="221.60" cy="61.80" r="1.25" fill="none" stroke="#ff78c8" stroke-width="0.6"/>
<circle cx="224.50" cy="59.40" r="1.25" fill="none" stroke="#ff78c8" stroke-width="0.6"/>
<circle cx="227.40" cy="63.00" r="1.25" fill="none" stroke="#ff78c8" stroke-width="0.6"/>
<circle cx="230.60" cy="58.20" r="1.25" fill="none" stroke="#ff78c8" stroke-width="0.6"/>
<circle cx="233.80" cy="59.40" r="1.25" fill="none" stroke="#ff78c8" stroke-width="0.6"/>
<circle cx="236.70" cy="63.00" r="1.25" fill="none" stroke="#ff78c8" stroke-width="0.6"/>
<circle cx="239.60" cy="63.00" r="1.25" fill="none" stroke="#ff78c8" stroke-width="0.6"/>
<path d="M55.00,143.83 L57.00,143.00 L59.50,141.97 L62.00,140.95 L64.00,140.14 L66.50,139.14 L69.00,138.14 L71.00,137.35 L73.50,136.38 L76.00,135.42 L78.50,134.47 L80.50,133.72 L83.00,132.79 L85.50,131.88 L87.50,131.15 L90.00,130.25 L92.50,129.37 L95.00,128.50 L97.00,127.81 L99.50,126.96 L102.00,126.12 L104.00,125.46 L106.50,124.64 L109.00,123.83 L111.50,123.03 L113.50,122.39 L116.00,121.59 L118.50,120.79 L120.50,120.16 L123.00,119.37 L125.50,118.58 L127.50,117.96 L130.00,117.21 L132.50,116.50 L135.00,115.83 L137.00,115.34 L139.50,114.78 L142.00,114.30 L144.00,113.96 L146.50,113.61 L149.00,113.31 L151.50,113.07 L153.50,112.91 L156.00,112.74 L158.50,112.61 L160.50,112.52 L163.00,112.43 L165.50,112.36 L168.00,112.31 L170.00,112.28 L172.50,112.25 L175.00,112.23 L177.00,112.22 L179.50,112.21 L182.00,112.21 L184.00,112.21 L186.50,112.21 L189.00,112.21 L191.50,112.22 L193.50,112.22 L196.00,112.23 L198.50,112.23 L200.50,112.24 L203.00,112.25 L205.50,112.26 L208.00,112.27 L210.00,112.28 L212.50,112.30 L215.00,112.31 L217.00,112.33 L219.50,112.35 L222.00,112.37 L224.50,112.40 L226.50,112.42 L229.00,112.44 L231.50,112.47 L233.50,112.50 L236.00,112.53 L238.50,112.57 L241.00,112.61" fill="none" stroke="#000000" stroke-width="2.05" stroke-linecap="butt"/>
<path d="M35.00,123.87 L37.50,123.33 L40.00,122.79 L42.50,122.23 L45.00,121.67 L48.00,120.99 L50.50,120.40 L53.00,119.81 L55.50,119.21 L58.00,118.60 L61.00,117.85 L63.50,117.22 L66.00,116.57 L68.50,115.92 L71.50,115.11 L74.00,114.43 L76.50,113.73 L79.00,113.02 L81.50,112.30 L84.50,111.42 L87.00,110.68 L89.50,109.93 L92.00,109.17 L94.50,108.41 L97.50,107.48 L100.00,106.70 L102.50,105.91 L105.00,105.10 L108.00,104.12 L110.50,103.30 L113.00,102.46 L115.50,101.61 L118.00,100.76 L121.00,99.74 L123.50,98.89 L126.00,98.07 L128.50,97.26 L131.00,96.49 L134.00,95.60 L136.50,94.91 L139.00,94.26 L141.50,93.66 L144.50,92.99 L147.00,92.49 L149.50,92.01 L152.00,91.57 L154.50,91.16 L157.50,90.71 L160.00,90.35 L162.50,90.01 L165.00,89.69 L167.50,89.38 L170.50,89.04 L173.00,88.77 L175.50,88.52 L178.00,88.28 L181.00,88.02 L183.50,87.82 L186.00,87.63 L188.50,87.45 L191.00,87.29 L194.00,87.10 L196.50,86.95 L199.00,86.81 L201.50,86.66 L204.00,86.51 L207.00,86.31 L209.50,86.14 L212.00,85.96 L214.50,85.76 L217.50,85.51 L220.00,85.29 L222.50,85.05 L225.00,84.80 L227.50,84.54 L230.50,84.21 L233.00,83.93 L235.50,83.64 L238.00,83.34 L241.00,82.98" fill="none" stroke="#1fb4ee" stroke-width="2.05" stroke-linecap="butt"/>
<path d="M35.00,101.47 L37.50,100.79 L40.00,100.11 L42.50,99.42 L45.00,98.72 L48.00,97.87 L50.50,97.15 L53.00,96.42 L55.50,95.68 L58.00,94.94 L61.00,94.03 L63.50,93.26 L66.00,92.48 L68.50,91.68 L71.50,90.71 L74.00,89.89 L76.50,89.06 L79.00,88.21 L81.50,87.35 L84.50,86.31 L87.00,85.44 L89.50,84.56 L92.00,83.69 L94.50,82.82 L97.50,81.78 L100.00,80.92 L102.50,80.07 L105.00,79.22 L108.00,78.21 L110.50,77.37 L113.00,76.53 L115.50,75.70 L118.00,74.88 L121.00,73.91 L123.50,73.11 L126.00,72.34 L128.50,71.59 L131.00,70.87 L134.00,70.05 L136.50,69.41 L139.00,68.81 L141.50,68.24 L144.50,67.61 L147.00,67.12 L149.50,66.65 L152.00,66.21 L154.50,65.80 L157.50,65.32 L160.00,64.95 L162.50,64.60 L165.00,64.28 L167.50,63.98 L170.50,63.66 L173.00,63.43 L175.50,63.24 L178.00,63.08 L181.00,62.93 L183.50,62.85 L186.00,62.79 L188.50,62.76 L191.00,62.76 L194.00,62.77 L196.50,62.80 L199.00,62.83 L201.50,62.86 L204.00,62.89 L207.00,62.93 L209.50,62.95 L212.00,62.97 L214.50,62.98 L217.50,62.99 L220.00,62.99 L222.50,63.00 L225.00,63.00 L227.50,63.00 L230.50,63.00 L233.00,63.00 L235.50,63.00 L238.00,63.00 L241.00,63.00" fill="none" stroke="#ff1a9c" stroke-width="2.05" stroke-linecap="butt"/>
<path d="M35.00,109.77 L37.50,109.12 L40.00,108.47 L42.50,107.81 L45.00,107.14 L48.00,106.32 L50.50,105.63 L53.00,104.94 L55.50,104.23 L58.00,103.51 L61.00,102.63 L63.50,101.89 L66.00,101.14 L68.50,100.38 L71.50,99.45 L74.00,98.66 L76.50,97.85 L79.00,97.04 L81.50,96.21 L84.50,95.21 L87.00,94.37 L89.50,93.51 L92.00,92.66 L94.50,91.80 L97.50,90.76 L100.00,89.89 L102.50,89.01 L105.00,88.13 L108.00,87.05 L110.50,86.15 L113.00,85.24 L115.50,84.32 L118.00,83.41 L121.00,82.31 L123.50,81.42 L126.00,80.54 L128.50,79.68 L131.00,78.86 L134.00,77.94 L136.50,77.21 L139.00,76.54 L141.50,75.91 L144.50,75.22 L147.00,74.70 L149.50,74.21 L152.00,73.77 L154.50,73.35 L157.50,72.88 L160.00,72.52 L162.50,72.18 L165.00,71.86 L167.50,71.56 L170.50,71.21 L173.00,70.95 L175.50,70.70 L178.00,70.46 L181.00,70.20 L183.50,70.00 L186.00,69.82 L188.50,69.64 L191.00,69.48 L194.00,69.30 L196.50,69.16 L199.00,69.03 L201.50,68.90 L204.00,68.78 L207.00,68.65 L209.50,68.54 L212.00,68.43 L214.50,68.33 L217.50,68.21 L220.00,68.11 L222.50,68.02 L225.00,67.93 L227.50,67.84 L230.50,67.74 L233.00,67.65 L235.50,67.58 L238.00,67.50 L241.00,67.41" fill="none" stroke="#2020f0" stroke-width="2.05" stroke-linecap="butt"/>
<path d="M35.00,118.25 L37.50,117.69 L40.00,117.12 L42.50,116.54 L45.00,115.94 L48.00,115.21 L50.50,114.58 L53.00,113.94 L55.50,113.29 L58.00,112.61 L61.00,111.78 L63.50,111.07 L66.00,110.34 L68.50,109.59 L71.50,108.65 L74.00,107.85 L76.50,107.02 L79.00,106.17 L81.50,105.31 L84.50,104.25 L87.00,103.36 L89.50,102.47 L92.00,101.59 L94.50,100.72 L97.50,99.69 L100.00,98.86 L102.50,98.06 L105.00,97.28 L108.00,96.37 L110.50,95.64 L113.00,94.93 L115.50,94.23 L118.00,93.56 L121.00,92.77 L123.50,92.13 L126.00,91.50 L128.50,90.90 L131.00,90.31 L134.00,89.62 L136.50,89.07 L139.00,88.54 L141.50,88.04 L144.50,87.45 L147.00,86.99 L149.50,86.56 L152.00,86.14 L154.50,85.74 L157.50,85.28 L160.00,84.90 L162.50,84.54 L165.00,84.17 L167.50,83.81 L170.50,83.35 L173.00,82.96 L175.50,82.55 L178.00,82.11 L181.00,81.54 L183.50,81.03 L186.00,80.49 L188.50,79.90 L191.00,79.27 L194.00,78.46 L196.50,77.75 L199.00,76.99 L201.50,76.21 L204.00,75.38 L207.00,74.36 L209.50,73.47 L212.00,72.56 L214.50,71.63 L217.50,70.50 L220.00,69.54 L222.50,68.58 L225.00,67.63 L227.50,66.69 L230.50,65.58 L233.00,64.67 L235.50,63.78 L238.00,62.89 L241.00,61.85" fill="none" stroke="#ffa010" stroke-width="2.05" stroke-linecap="butt"/>
<line x1="36.5" y1="172.4" x2="47.5" y2="172.4" stroke="#3a3a3a" stroke-width="1.9"/>
<text transform="translate(52.7,174.5) scale(1,1.2)" font-size="5.8" fill="#3a3a3a">StJohns (NL)</text>
<line x1="36.5" y1="179.6" x2="47.5" y2="179.6" stroke="#1fb4ee" stroke-width="1.9"/>
<text transform="translate(52.7,181.7) scale(1,1.2)" font-size="5.8" fill="#3a3a3a">Charlottetown (PE)</text>
<line x1="107" y1="172.4" x2="118.7" y2="172.4" stroke="#ff1a9c" stroke-width="1.9"/>
<text transform="translate(123.6,174.5) scale(1,1.2)" font-size="5.8" fill="#3a3a3a">Moncton (NB)</text>
<line x1="107" y1="179.6" x2="118.7" y2="179.6" stroke="#2020f0" stroke-width="1.9"/>
<text transform="translate(123.6,181.7) scale(1,1.2)" font-size="5.8" fill="#3a3a3a">Greenwood (NS)</text>
<line x1="177.8" y1="172.4" x2="190" y2="172.4" stroke="#ffa010" stroke-width="1.9"/>
<text transform="translate(194,174.5) scale(1,1.2)" font-size="5.8" fill="#3a3a3a">Yarmouth (NS)</text>
<text transform="translate(42.9,14.1) scale(1,1.0)" font-size="9.1" font-weight="bold" fill="#111">AFTER MIDNIGHT MINIMA TIMING (COW<tspan font-size="7.6" dy="2.3" dx="0.4">N-D</tspan><tspan dy="-2.3" dx="0.3">)</tspan></text>
<text transform="translate(9,106.2) rotate(-90) scale(1,1.2)" font-size="5.88" font-weight="bold" fill="#111" text-anchor="middle">AMM Occurence Time (h LST)</text>
<text transform="translate(139,210.7) scale(1,1.2)" font-size="5.75" font-weight="bold" fill="#111" text-anchor="middle">Time (years)</text>
<text transform="translate(138.1,219) scale(1,1.12)" font-size="7.45" font-weight="bold" font-style="italic" fill="#7f7f7f" text-anchor="middle">Atlantic Canada Climate Region (1953/59-2018)</text>
<text x="131.5" y="241.0" font-size="10.8" font-weight="bold" fill="#111" text-anchor="middle" style="font-family:&quot;Liberation Serif&quot;,serif">(a)</text>
<line x1="356.10" y1="26.2" x2="356.10" y2="185.6" stroke="#efefef" stroke-width="0.7"/>
<line x1="387.00" y1="26.2" x2="387.00" y2="185.6" stroke="#efefef" stroke-width="0.7"/>
<line x1="417.90" y1="26.2" x2="417.90" y2="185.6" stroke="#efefef" stroke-width="0.7"/>
<line x1="448.80" y1="26.2" x2="448.80" y2="185.6" stroke="#efefef" stroke-width="0.7"/>
<line x1="479.70" y1="26.2" x2="479.70" y2="185.6" stroke="#efefef" stroke-width="0.7"/>
<line x1="510.60" y1="26.2" x2="510.60" y2="185.6" stroke="#efefef" stroke-width="0.7"/>
<line x1="541.50" y1="26.2" x2="541.50" y2="185.6" stroke="#efefef" stroke-width="0.7"/>
<line x1="325.8" y1="179.60" x2="543.5" y2="179.60" stroke="#efefef" stroke-width="0.7"/>
<line x1="325.8" y1="150.20" x2="543.5" y2="150.20" stroke="#efefef" stroke-width="0.7"/>
<line x1="325.8" y1="120.80" x2="543.5" y2="120.80" stroke="#efefef" stroke-width="0.7"/>
<line x1="325.8" y1="91.40" x2="543.5" y2="91.40" stroke="#efefef" stroke-width="0.7"/>
<line x1="325.8" y1="62.00" x2="543.5" y2="62.00" stroke="#efefef" stroke-width="0.7"/>
<line x1="325.8" y1="32.60" x2="543.5" y2="32.60" stroke="#efefef" stroke-width="0.7"/>
<rect x="325.8" y="26.2" width="217.7" height="159.4" fill="none" stroke="#8a8a8a" stroke-width="1.1"/>
<line x1="356.10" y1="185.6" x2="356.10" y2="189.0" stroke="#888" stroke-width="0.9"/>
<text transform="translate(356.10,198.7) scale(1,1.2)" font-size="5.9" fill="#3a3a3a" text-anchor="middle">1960</text>
<line x1="387.00" y1="185.6" x2="387.00" y2="189.0" stroke="#888" stroke-width="0.9"/>
<text transform="translate(387.00,198.7) scale(1,1.2)" font-size="5.9" fill="#3a3a3a" text-anchor="middle">1970</text>
<line x1="417.90" y1="185.6" x2="417.90" y2="189.0" stroke="#888" stroke-width="0.9"/>
<text transform="translate(417.90,198.7) scale(1,1.2)" font-size="5.9" fill="#3a3a3a" text-anchor="middle">1980</text>
<line x1="448.80" y1="185.6" x2="448.80" y2="189.0" stroke="#888" stroke-width="0.9"/>
<text transform="translate(448.80,198.7) scale(1,1.2)" font-size="5.9" fill="#3a3a3a" text-anchor="middle">1990</text>
<line x1="479.70" y1="185.6" x2="479.70" y2="189.0" stroke="#888" stroke-width="0.9"/>
<text transform="translate(479.70,198.7) scale(1,1.2)" font-size="5.9" fill="#3a3a3a" text-anchor="middle">2000</text>
<line x1="510.60" y1="185.6" x2="510.60" y2="189.0" stroke="#888" stroke-width="0.9"/>
<text transform="translate(510.60,198.7) scale(1,1.2)" font-size="5.9" fill="#3a3a3a" text-anchor="middle">2010</text>
<line x1="541.50" y1="185.6" x2="541.50" y2="189.0" stroke="#888" stroke-width="0.9"/>
<text transform="translate(541.50,198.7) scale(1,1.2)" font-size="5.9" fill="#3a3a3a" text-anchor="middle">2020</text>
<line x1="322.3" y1="179.60" x2="325.8" y2="179.60" stroke="#888" stroke-width="0.9"/>
<text transform="translate(317.5,179.60) rotate(-90) scale(1,1.2)" font-size="5.9" fill="#3a3a3a" text-anchor="middle">13.0</text>
<line x1="322.3" y1="150.20" x2="325.8" y2="150.20" stroke="#888" stroke-width="0.9"/>
<text transform="translate(317.5,150.20) rotate(-90) scale(1,1.2)" font-size="5.9" fill="#3a3a3a" text-anchor="middle">13.5</text>
<line x1="322.3" y1="120.80" x2="325.8" y2="120.80" stroke="#888" stroke-width="0.9"/>
<text transform="translate(317.5,120.80) rotate(-90) scale(1,1.2)" font-size="5.9" fill="#3a3a3a" text-anchor="middle">14.0</text>
<line x1="322.3" y1="91.40" x2="325.8" y2="91.40" stroke="#888" stroke-width="0.9"/>
<text transform="translate(317.5,91.40) rotate(-90) scale(1,1.2)" font-size="5.9" fill="#3a3a3a" text-anchor="middle">14.5</text>
<line x1="322.3" y1="62.00" x2="325.8" y2="62.00" stroke="#888" stroke-width="0.9"/>
<text transform="translate(317.5,62.00) rotate(-90) scale(1,1.2)" font-size="5.9" fill="#3a3a3a" text-anchor="middle">15.0</text>
<line x1="322.3" y1="32.60" x2="325.8" y2="32.60" stroke="#888" stroke-width="0.9"/>
<text transform="translate(317.5,32.60) rotate(-90) scale(1,1.2)" font-size="5.9" fill="#3a3a3a" text-anchor="middle">15.5</text>
<path d="M352.80,125.00 L356.30,127.80 L360.00,134.60 L362.40,132.60 L365.10,126.50 L367.70,117.40 L370.60,130.60 L373.20,135.70 L376.30,126.50 L378.70,125.50 L382.00,126.50 L384.80,130.60 L387.40,124.50 L390.50,121.40 L393.50,127.50 L396.60,140.70 L399.60,128.50 L402.70,134.60 L405.70,119.40 L408.00,118.50 L410.70,127.60 L413.50,135.70 L416.80,120.50 L419.60,129.60 L423.70,118.50 L426.30,126.60 L429.80,127.60 L433.00,116.40 L436.50,106.30 L439.60,122.50 L442.60,117.40 L445.70,106.30 L448.10,118.50 L451.30,116.40 L455.70,115.40 L458.50,111.30 L461.80,114.40 L464.60,120.50 L467.30,124.60 L470.30,115.40 L473.40,117.40 L476.40,121.50 L479.50,114.40 L482.50,122.50 L486.20,121.50 L489.00,124.60 L491.70,125.60 L494.70,126.60 L498.00,126.60 L500.70,124.60 L503.50,128.60 L506.20,111.30 L509.20,110.30 L512.30,109.30 L514.30,110.30 L517.00,137.80 L519.40,127.60 L522.40,124.60 L525.50,132.70 L528.50,120.50 L531.60,129.60 L535.20,120.50" fill="none" stroke="#5e5e5e" stroke-width="0.95"/>
<circle cx="352.80" cy="125.00" r="1.25" fill="none" stroke="#5e5e5e" stroke-width="0.6"/>
<circle cx="356.30" cy="127.80" r="1.25" fill="none" stroke="#5e5e5e" stroke-width="0.6"/>
<circle cx="360.00" cy="134.60" r="1.25" fill="none" stroke="#5e5e5e" stroke-width="0.6"/>
<circle cx="362.40" cy="132.60" r="1.25" fill="none" stroke="#5e5e5e" stroke-width="0.6"/>
<circle cx="365.10" cy="126.50" r="1.25" fill="none" stroke="#5e5e5e" stroke-width="0.6"/>
<circle cx="367.70" cy="117.40" r="1.25" fill="none" stroke="#5e5e5e" stroke-width="0.6"/>
<circle cx="370.60" cy="130.60" r="1.25" fill="none" stroke="#5e5e5e" stroke-width="0.6"/>
<circle cx="373.20" cy="135.70" r="1.25" fill="none" stroke="#5e5e5e" stroke-width="0.6"/>
<circle cx="376.30" cy="126.50" r="1.25" fill="none" stroke="#5e5e5e" stroke-width="0.6"/>
<circle cx="378.70" cy="125.50" r="1.25" fill="none" stroke="#5e5e5e" stroke-width="0.6"/>
<circle cx="382.00" cy="126.50" r="1.25" fill="none" stroke="#5e5e5e" stroke-width="0.6"/>
<circle cx="384.80" cy="130.60" r="1.25" fill="none" stroke="#5e5e5e" stroke-width="0.6"/>
<circle cx="387.40" cy="124.50" r="1.25" fill="none" stroke="#5e5e5e" stroke-width="0.6"/>
<circle cx="390.50" cy="121.40" r="1.25" fill="none" stroke="#5e5e5e" stroke-width="0.6"/>
<circle cx="393.50" cy="127.50" r="1.25" fill="none" stroke="#5e5e5e" stroke-width="0.6"/>
<circle cx="396.60" cy="140.70" r="1.25" fill="none" stroke="#5e5e5e" stroke-width="0.6"/>
<circle cx="399.60" cy="128.50" r="1.25" fill="none" stroke="#5e5e5e" stroke-width="0.6"/>
<circle cx="402.70" cy="134.60" r="1.25" fill="none" stroke="#5e5e5e" stroke-width="0.6"/>
<circle cx="405.70" cy="119.40" r="1.25" fill="none" stroke="#5e5e5e" stroke-width="0.6"/>
<circle cx="408.00" cy="118.50" r="1.25" fill="none" stroke="#5e5e5e" stroke-width="0.6"/>
<circle cx="410.70" cy="127.60" r="1.25" fill="none" stroke="#5e5e5e" stroke-width="0.6"/>
<circle cx="413.50" cy="135.70" r="1.25" fill="none" stroke="#5e5e5e" stroke-width="0.6"/>
<circle cx="416.80" cy="120.50" r="1.25" fill="none" stroke="#5e5e5e" stroke-width="0.6"/>
<circle cx="419.60" cy="129.60" r="1.25" fill="none" stroke="#5e5e5e" stroke-width="0.6"/>
<circle cx="423.70" cy="118.50" r="1.25" fill="none" stroke="#5e5e5e" stroke-width="0.6"/>
<circle cx="426.30" cy="126.60" r="1.25" fill="none" stroke="#5e5e5e" stroke-width="0.6"/>
<circle cx="429.80" cy="127.60" r="1.25" fill="none" stroke="#5e5e5e" stroke-width="0.6"/>
<circle cx="433.00" cy="116.40" r="1.25" fill="none" stroke="#5e5e5e" stroke-width="0.6"/>
<circle cx="436.50" cy="106.30" r="1.25" fill="none" stroke="#5e5e5e" stroke-width="0.6"/>
<circle cx="439.60" cy="122.50" r="1.25" fill="none" stroke="#5e5e5e" stroke-width="0.6"/>
<circle cx="442.60" cy="117.40" r="1.25" fill="none" stroke="#5e5e5e" stroke-width="0.6"/>
<circle cx="445.70" cy="106.30" r="1.25" fill="none" stroke="#5e5e5e" stroke-width="0.6"/>
<circle cx="448.10" cy="118.50" r="1.25" fill="none" stroke="#5e5e5e" stroke-width="0.6"/>
<circle cx="451.30" cy="116.40" r="1.25" fill="none" stroke="#5e5e5e" stroke-width="0.6"/>
<circle cx="455.70" cy="115.40" r="1.25" fill="none" stroke="#5e5e5e" stroke-width="0.6"/>
<circle cx="458.50" cy="111.30" r="1.25" fill="none" stroke="#5e5e5e" stroke-width="0.6"/>
<circle cx="461.80" cy="114.40" r="1.25" fill="none" stroke="#5e5e5e" stroke-width="0.6"/>
<circle cx="464.60" cy="120.50" r="1.25" fill="none" stroke="#5e5e5e" stroke-width="0.6"/>
<circle cx="467.30" cy="124.60" r="1.25" fill="none" stroke="#5e5e5e" stroke-width="0.6"/>
<circle cx="470.30" cy="115.40" r="1.25" fill="none" stroke="#5e5e5e" stroke-width="0.6"/>
<circle cx="473.40" cy="117.40" r="1.25" fill="none" stroke="#5e5e5e" stroke-width="0.6"/>
<circle cx="476.40" cy="121.50" r="1.25" fill="none" stroke="#5e5e5e" stroke-width="0.6"/>
<circle cx="479.50" cy="114.40" r="1.25" fill="none" stroke="#5e5e5e" stroke-width="0.6"/>
<circle cx="482.50" cy="122.50" r="1.25" fill="none" stroke="#5e5e5e" stroke-width="0.6"/>
<circle cx="486.20" cy="121.50" r="1.25" fill="none" stroke="#5e5e5e" stroke-width="0.6"/>
<circle cx="489.00" cy="124.60" r="1.25" fill="none" stroke="#5e5e5e" stroke-width="0.6"/>
<circle cx="491.70" cy="125.60" r="1.25" fill="none" stroke="#5e5e5e" stroke-width="0.6"/>
<circle cx="494.70" cy="126.60" r="1.25" fill="none" stroke="#5e5e5e" stroke-width="0.6"/>
<circle cx="498.00" cy="126.60" r="1.25" fill="none" stroke="#5e5e5e" stroke-width="0.6"/>
<circle cx="500.70" cy="124.60" r="1.25" fill="none" stroke="#5e5e5e" stroke-width="0.6"/>
<circle cx="503.50" cy="128.60" r="1.25" fill="none" stroke="#5e5e5e" stroke-width="0.6"/>
<circle cx="506.20" cy="111.30" r="1.25" fill="none" stroke="#5e5e5e" stroke-width="0.6"/>
<circle cx="509.20" cy="110.30" r="1.25" fill="none" stroke="#5e5e5e" stroke-width="0.6"/>
<circle cx="512.30" cy="109.30" r="1.25" fill="none" stroke="#5e5e5e" stroke-width="0.6"/>
<circle cx="514.30" cy="110.30" r="1.25" fill="none" stroke="#5e5e5e" stroke-width="0.6"/>
<circle cx="517.00" cy="137.80" r="1.25" fill="none" stroke="#5e5e5e" stroke-width="0.6"/>
<circle cx="519.40" cy="127.60" r="1.25" fill="none" stroke="#5e5e5e" stroke-width="0.6"/>
<circle cx="522.40" cy="124.60" r="1.25" fill="none" stroke="#5e5e5e" stroke-width="0.6"/>
<circle cx="525.50" cy="132.70" r="1.25" fill="none" stroke="#5e5e5e" stroke-width="0.6"/>
<circle cx="528.50" cy="120.50" r="1.25" fill="none" stroke="#5e5e5e" stroke-width="0.6"/>
<circle cx="531.60" cy="129.60" r="1.25" fill="none" stroke="#5e5e5e" stroke-width="0.6"/>
<circle cx="535.20" cy="120.50" r="1.25" fill="none" stroke="#5e5e5e" stroke-width="0.6"/>
<path d="M333.60,138.40 L337.10,131.60 L340.20,135.30 L343.50,129.90 L346.80,134.50 L349.90,135.60 L352.50,119.70 L355.60,125.60 L359.20,133.90 L362.00,114.30 L364.50,126.50 L367.70,120.40 L371.20,115.30 L373.80,125.50 L377.30,115.30 L380.30,124.50 L384.00,121.40 L387.40,123.50 L390.10,113.70 L392.90,125.50 L396.20,121.40 L399.60,119.40 L402.70,129.60 L405.70,107.20 L408.70,97.10 L411.10,104.20 L414.10,96.10 L416.80,109.30 L419.60,115.40 L422.90,112.40 L425.30,105.20 L428.40,109.30 L432.40,99.10 L435.50,98.10 L437.90,112.40 L441.20,117.40 L444.00,105.20 L446.70,108.30 L449.70,113.40 L452.80,107.30 L455.70,110.30 L458.50,99.10 L461.80,93.00 L464.60,90.00 L467.30,102.20 L470.30,95.10 L473.40,116.40 L476.40,107.30 L479.50,99.10 L482.50,116.40 L486.20,110.30 L489.60,108.30 L492.70,105.20 L495.70,113.40 L497.40,104.20 L500.10,101.20 L503.10,106.30 L507.60,98.10 L510.20,109.30 L513.30,105.20 L516.30,110.30 L519.40,102.20 L522.40,98.50 L525.50,112.40 L528.50,114.40 L531.60,98.10 L535.20,96.10" fill="none" stroke="#ff9c80" stroke-width="0.95"/>
<circle cx="333.60" cy="138.40" r="1.25" fill="none" stroke="#ff9c80" stroke-width="0.6"/>
<circle cx="337.10" cy="131.60" r="1.25" fill="none" stroke="#ff9c80" stroke-width="0.6"/>
<circle cx="340.20" cy="135.30" r="1.25" fill="none" stroke="#ff9c80" stroke-width="0.6"/>
<circle cx="343.50" cy="129.90" r="1.25" fill="none" stroke="#ff9c80" stroke-width="0.6"/>
<circle cx="346.80" cy="134.50" r="1.25" fill="none" stroke="#ff9c80" stroke-width="0.6"/>
<circle cx="349.90" cy="135.60" r="1.25" fill="none" stroke="#ff9c80" stroke-width="0.6"/>
<circle cx="352.50" cy="119.70" r="1.25" fill="none" stroke="#ff9c80" stroke-width="0.6"/>
<circle cx="355.60" cy="125.60" r="1.25" fill="none" stroke="#ff9c80" stroke-width="0.6"/>
<circle cx="359.20" cy="133.90" r="1.25" fill="none" stroke="#ff9c80" stroke-width="0.6"/>
<circle cx="362.00" cy="114.30" r="1.25" fill="none" stroke="#ff9c80" stroke-width="0.6"/>
<circle cx="364.50" cy="126.50" r="1.25" fill="none" stroke="#ff9c80" stroke-width="0.6"/>
<circle cx="367.70" cy="120.40" r="1.25" fill="none" stroke="#ff9c80" stroke-width="0.6"/>
<circle cx="371.20" cy="115.30" r="1.25" fill="none" stroke="#ff9c80" stroke-width="0.6"/>
<circle cx="373.80" cy="125.50" r="1.25" fill="none" stroke="#ff9c80" stroke-width="0.6"/>
<circle cx="377.30" cy="115.30" r="1.25" fill="none" stroke="#ff9c80" stroke-width="0.6"/>
<circle cx="380.30" cy="124.50" r="1.25" fill="none" stroke="#ff9c80" stroke-width="0.6"/>
<circle cx="384.00" cy="121.40" r="1.25" fill="none" stroke="#ff9c80" stroke-width="0.6"/>
<circle cx="387.40" cy="123.50" r="1.25" fill="none" stroke="#ff9c80" stroke-width="0.6"/>
<circle cx="390.10" cy="113.70" r="1.25" fill="none" stroke="#ff9c80" stroke-width="0.6"/>
<circle cx="392.90" cy="125.50" r="1.25" fill="none" stroke="#ff9c80" stroke-width="0.6"/>
<circle cx="396.20" cy="121.40" r="1.25" fill="none" stroke="#ff9c80" stroke-width="0.6"/>
<circle cx="399.60" cy="119.40" r="1.25" fill="none" stroke="#ff9c80" stroke-width="0.6"/>
<circle cx="402.70" cy="129.60" r="1.25" fill="none" stroke="#ff9c80" stroke-width="0.6"/>
<circle cx="405.70" cy="107.20" r="1.25" fill="none" stroke="#ff9c80" stroke-width="0.6"/>
<circle cx="408.70" cy="97.10" r="1.25" fill="none" stroke="#ff9c80" stroke-width="0.6"/>
<circle cx="411.10" cy="104.20" r="1.25" fill="none" stroke="#ff9c80" stroke-width="0.6"/>
<circle cx="414.10" cy="96.10" r="1.25" fill="none" stroke="#ff9c80" stroke-width="0.6"/>
<circle cx="416.80" cy="109.30" r="1.25" fill="none" stroke="#ff9c80" stroke-width="0.6"/>
<circle cx="419.60" cy="115.40" r="1.25" fill="none" stroke="#ff9c80" stroke-width="0.6"/>
<circle cx="422.90" cy="112.40" r="1.25" fill="none" stroke="#ff9c80" stroke-width="0.6"/>
<circle cx="425.30" cy="105.20" r="1.25" fill="none" stroke="#ff9c80" stroke-width="0.6"/>
<circle cx="428.40" cy="109.30" r="1.25" fill="none" stroke="#ff9c80" stroke-width="0.6"/>
<circle cx="432.40" cy="99.10" r="1.25" fill="none" stroke="#ff9c80" stroke-width="0.6"/>
<circle cx="435.50" cy="98.10" r="1.25" fill="none" stroke="#ff9c80" stroke-width="0.6"/>
<circle cx="437.90" cy="112.40" r="1.25" fill="none" stroke="#ff9c80" stroke-width="0.6"/>
<circle cx="441.20" cy="117.40" r="1.25" fill="none" stroke="#ff9c80" stroke-width="0.6"/>
<circle cx="444.00" cy="105.20" r="1.25" fill="none" stroke="#ff9c80" stroke-width="0.6"/>
<circle cx="446.70" cy="108.30" r="1.25" fill="none" stroke="#ff9c80" stroke-width="0.6"/>
<circle cx="449.70" cy="113.40" r="1.25" fill="none" stroke="#ff9c80" stroke-width="0.6"/>
<circle cx="452.80" cy="107.30" r="1.25" fill="none" stroke="#ff9c80" stroke-width="0.6"/>
<circle cx="455.70" cy="110.30" r="1.25" fill="none" stroke="#ff9c80" stroke-width="0.6"/>
<circle cx="458.50" cy="99.10" r="1.25" fill="none" stroke="#ff9c80" stroke-width="0.6"/>
<circle cx="461.80" cy="93.00" r="1.25" fill="none" stroke="#ff9c80" stroke-width="0.6"/>
<circle cx="464.60" cy="90.00" r="1.25" fill="none" stroke="#ff9c80" stroke-width="0.6"/>
<circle cx="467.30" cy="102.20" r="1.25" fill="none" stroke="#ff9c80" stroke-width="0.6"/>
<circle cx="470.30" cy="95.10" r="1.25" fill="none" stroke="#ff9c80" stroke-width="0.6"/>
<circle cx="473.40" cy="116.40" r="1.25" fill="none" stroke="#ff9c80" stroke-width="0.6"/>
<circle cx="476.40" cy="107.30" r="1.25" fill="none" stroke="#ff9c80" stroke-width="0.6"/>
<circle cx="479.50" cy="99.10" r="1.25" fill="none" stroke="#ff9c80" stroke-width="0.6"/>
<circle cx="482.50" cy="116.40" r="1.25" fill="none" stroke="#ff9c80" stroke-width="0.6"/>
<circle cx="486.20" cy="110.30" r="1.25" fill="none" stroke="#ff9c80" stroke-width="0.6"/>
<circle cx="489.60" cy="108.30" r="1.25" fill="none" stroke="#ff9c80" stroke-width="0.6"/>
<circle cx="492.70" cy="105.20" r="1.25" fill="none" stroke="#ff9c80" stroke-width="0.6"/>
<circle cx="495.70" cy="113.40" r="1.25" fill="none" stroke="#ff9c80" stroke-width="0.6"/>
<circle cx="497.40" cy="104.20" r="1.25" fill="none" stroke="#ff9c80" stroke-width="0.6"/>
<circle cx="500.10" cy="101.20" r="1.25" fill="none" stroke="#ff9c80" stroke-width="0.6"/>
<circle cx="503.10" cy="106.30" r="1.25" fill="none" stroke="#ff9c80" stroke-width="0.6"/>
<circle cx="507.60" cy="98.10" r="1.25" fill="none" stroke="#ff9c80" stroke-width="0.6"/>
<circle cx="510.20" cy="109.30" r="1.25" fill="none" stroke="#ff9c80" stroke-width="0.6"/>
<circle cx="513.30" cy="105.20" r="1.25" fill="none" stroke="#ff9c80" stroke-width="0.6"/>
<circle cx="516.30" cy="110.30" r="1.25" fill="none" stroke="#ff9c80" stroke-width="0.6"/>
<circle cx="519.40" cy="102.20" r="1.25" fill="none" stroke="#ff9c80" stroke-width="0.6"/>
<circle cx="522.40" cy="98.50" r="1.25" fill="none" stroke="#ff9c80" stroke-width="0.6"/>
<circle cx="525.50" cy="112.40" r="1.25" fill="none" stroke="#ff9c80" stroke-width="0.6"/>
<circle cx="528.50" cy="114.40" r="1.25" fill="none" stroke="#ff9c80" stroke-width="0.6"/>
<circle cx="531.60" cy="98.10" r="1.25" fill="none" stroke="#ff9c80" stroke-width="0.6"/>
<circle cx="535.20" cy="96.10" r="1.25" fill="none" stroke="#ff9c80" stroke-width="0.6"/>
<path d="M334.40,106.20 L337.80,102.60 L341.00,105.00 L344.60,97.70 L348.30,95.20 L352.40,80.60 L355.60,84.30 L359.30,94.00 L361.70,89.99 L364.10,91.60 L367.80,86.70 L371.50,92.80 L373.85,97.93 L376.20,96.30 L379.40,95.10 L382.80,97.60 L386.00,98.80 L389.10,89.00 L392.60,93.90 L395.70,101.20 L398.90,95.10 L401.80,86.60 L404.80,95.10 L407.90,75.60 L411.10,76.80 L414.00,69.50 L417.00,85.40 L420.10,76.80 L424.40,79.10 L427.30,76.70 L430.20,70.60 L433.40,76.70 L436.60,86.50 L439.50,87.70 L442.40,81.60 L445.60,74.30 L448.80,76.70 L451.70,77.90 L455.40,71.80 L458.50,76.70 L462.00,81.60 L465.10,75.50 L469.40,81.60 L472.30,91.30 L475.20,86.50 L478.40,76.70 L481.60,85.20 L485.00,81.60 L488.20,80.40 L491.30,86.50 L494.80,81.60 L497.35,80.92 L499.90,86.50 L503.50,81.60 L506.70,77.90 L510.10,85.20 L513.30,81.60 L517.00,77.90 L519.40,85.20 L523.00,81.60 L526.70,86.50 L530.40,79.10 L534.00,81.60" fill="none" stroke="#f27272" stroke-width="0.95"/>
<circle cx="334.40" cy="106.20" r="1.25" fill="none" stroke="#f27272" stroke-width="0.6"/>
<circle cx="337.80" cy="102.60" r="1.25" fill="none" stroke="#f27272" stroke-width="0.6"/>
<circle cx="341.00" cy="105.00" r="1.25" fill="none" stroke="#f27272" stroke-width="0.6"/>
<circle cx="344.60" cy="97.70" r="1.25" fill="none" stroke="#f27272" stroke-width="0.6"/>
<circle cx="348.30" cy="95.20" r="1.25" fill="none" stroke="#f27272" stroke-width="0.6"/>
<circle cx="352.40" cy="80.60" r="1.25" fill="none" stroke="#f27272" stroke-width="0.6"/>
<circle cx="355.60" cy="84.30" r="1.25" fill="none" stroke="#f27272" stroke-width="0.6"/>
<circle cx="359.30" cy="94.00" r="1.25" fill="none" stroke="#f27272" stroke-width="0.6"/>
<circle cx="361.70" cy="89.99" r="1.25" fill="none" stroke="#f27272" stroke-width="0.6"/>
<circle cx="364.10" cy="91.60" r="1.25" fill="none" stroke="#f27272" stroke-width="0.6"/>
<circle cx="367.80" cy="86.70" r="1.25" fill="none" stroke="#f27272" stroke-width="0.6"/>
<circle cx="371.50" cy="92.80" r="1.25" fill="none" stroke="#f27272" stroke-width="0.6"/>
<circle cx="373.85" cy="97.93" r="1.25" fill="none" stroke="#f27272" stroke-width="0.6"/>
<circle cx="376.20" cy="96.30" r="1.25" fill="none" stroke="#f27272" stroke-width="0.6"/>
<circle cx="379.40" cy="95.10" r="1.25" fill="none" stroke="#f27272" stroke-width="0.6"/>
<circle cx="382.80" cy="97.60" r="1.25" fill="none" stroke="#f27272" stroke-width="0.6"/>
<circle cx="386.00" cy="98.80" r="1.25" fill="none" stroke="#f27272" stroke-width="0.6"/>
<circle cx="389.10" cy="89.00" r="1.25" fill="none" stroke="#f27272" stroke-width="0.6"/>
<circle cx="392.60" cy="93.90" r="1.25" fill="none" stroke="#f27272" stroke-width="0.6"/>
<circle cx="395.70" cy="101.20" r="1.25" fill="none" stroke="#f27272" stroke-width="0.6"/>
<circle cx="398.90" cy="95.10" r="1.25" fill="none" stroke="#f27272" stroke-width="0.6"/>
<circle cx="401.80" cy="86.60" r="1.25" fill="none" stroke="#f27272" stroke-width="0.6"/>
<circle cx="404.80" cy="95.10" r="1.25" fill="none" stroke="#f27272" stroke-width="0.6"/>
<circle cx="407.90" cy="75.60" r="1.25" fill="none" stroke="#f27272" stroke-width="0.6"/>
<circle cx="411.10" cy="76.80" r="1.25" fill="none" stroke="#f27272" stroke-width="0.6"/>
<circle cx="414.00" cy="69.50" r="1.25" fill="none" stroke="#f27272" stroke-width="0.6"/>
<circle cx="417.00" cy="85.40" r="1.25" fill="none" stroke="#f27272" stroke-width="0.6"/>
<circle cx="420.10" cy="76.80" r="1.25" fill="none" stroke="#f27272" stroke-width="0.6"/>
<circle cx="424.40" cy="79.10" r="1.25" fill="none" stroke="#f27272" stroke-width="0.6"/>
<circle cx="427.30" cy="76.70" r="1.25" fill="none" stroke="#f27272" stroke-width="0.6"/>
<circle cx="430.20" cy="70.60" r="1.25" fill="none" stroke="#f27272" stroke-width="0.6"/>
<circle cx="433.40" cy="76.70" r="1.25" fill="none" stroke="#f27272" stroke-width="0.6"/>
<circle cx="436.60" cy="86.50" r="1.25" fill="none" stroke="#f27272" stroke-width="0.6"/>
<circle cx="439.50" cy="87.70" r="1.25" fill="none" stroke="#f27272" stroke-width="0.6"/>
<circle cx="442.40" cy="81.60" r="1.25" fill="none" stroke="#f27272" stroke-width="0.6"/>
<circle cx="445.60" cy="74.30" r="1.25" fill="none" stroke="#f27272" stroke-width="0.6"/>
<circle cx="448.80" cy="76.70" r="1.25" fill="none" stroke="#f27272" stroke-width="0.6"/>
<circle cx="451.70" cy="77.90" r="1.25" fill="none" stroke="#f27272" stroke-width="0.6"/>
<circle cx="455.40" cy="71.80" r="1.25" fill="none" stroke="#f27272" stroke-width="0.6"/>
<circle cx="458.50" cy="76.70" r="1.25" fill="none" stroke="#f27272" stroke-width="0.6"/>
<circle cx="462.00" cy="81.60" r="1.25" fill="none" stroke="#f27272" stroke-width="0.6"/>
<circle cx="465.10" cy="75.50" r="1.25" fill="none" stroke="#f27272" stroke-width="0.6"/>
<circle cx="469.40" cy="81.60" r="1.25" fill="none" stroke="#f27272" stroke-width="0.6"/>
<circle cx="472.30" cy="91.30" r="1.25" fill="none" stroke="#f27272" stroke-width="0.6"/>
<circle cx="475.20" cy="86.50" r="1.25" fill="none" stroke="#f27272" stroke-width="0.6"/>
<circle cx="478.40" cy="76.70" r="1.25" fill="none" stroke="#f27272" stroke-width="0.6"/>
<circle cx="481.60" cy="85.20" r="1.25" fill="none" stroke="#f27272" stroke-width="0.6"/>
<circle cx="485.00" cy="81.60" r="1.25" fill="none" stroke="#f27272" stroke-width="0.6"/>
<circle cx="488.20" cy="80.40" r="1.25" fill="none" stroke="#f27272" stroke-width="0.6"/>
<circle cx="491.30" cy="86.50" r="1.25" fill="none" stroke="#f27272" stroke-width="0.6"/>
<circle cx="494.80" cy="81.60" r="1.25" fill="none" stroke="#f27272" stroke-width="0.6"/>
<circle cx="497.35" cy="80.92" r="1.25" fill="none" stroke="#f27272" stroke-width="0.6"/>
<circle cx="499.90" cy="86.50" r="1.25" fill="none" stroke="#f27272" stroke-width="0.6"/>
<circle cx="503.50" cy="81.60" r="1.25" fill="none" stroke="#f27272" stroke-width="0.6"/>
<circle cx="506.70" cy="77.90" r="1.25" fill="none" stroke="#f27272" stroke-width="0.6"/>
<circle cx="510.10" cy="85.20" r="1.25" fill="none" stroke="#f27272" stroke-width="0.6"/>
<circle cx="513.30" cy="81.60" r="1.25" fill="none" stroke="#f27272" stroke-width="0.6"/>
<circle cx="517.00" cy="77.90" r="1.25" fill="none" stroke="#f27272" stroke-width="0.6"/>
<circle cx="519.40" cy="85.20" r="1.25" fill="none" stroke="#f27272" stroke-width="0.6"/>
<circle cx="523.00" cy="81.60" r="1.25" fill="none" stroke="#f27272" stroke-width="0.6"/>
<circle cx="526.70" cy="86.50" r="1.25" fill="none" stroke="#f27272" stroke-width="0.6"/>
<circle cx="530.40" cy="79.10" r="1.25" fill="none" stroke="#f27272" stroke-width="0.6"/>
<circle cx="534.00" cy="81.60" r="1.25" fill="none" stroke="#f27272" stroke-width="0.6"/>
<path d="M334.40,107.40 L337.30,102.60 L340.20,109.90 L343.40,102.60 L346.60,98.90 L350.00,103.80 L353.20,91.60 L356.30,86.70 L359.30,90.40 L362.90,95.20 L366.60,92.80 L370.20,95.20 L373.90,94.00 L376.20,91.50 L379.40,90.20 L382.80,87.80 L386.00,81.70 L389.10,81.70 L392.60,90.20 L395.70,95.10 L398.90,81.70 L401.80,86.60 L404.80,85.40 L407.90,57.30 L411.10,58.50 L414.00,75.60 L417.00,67.10 L420.10,69.50 L424.40,71.80 L427.30,74.30 L430.20,68.20 L433.40,62.10 L436.60,69.40 L439.50,69.40 L442.40,71.80 L445.60,74.30 L448.80,70.60 L451.70,68.20 L455.40,69.40 L458.50,71.80 L462.00,73.00 L465.10,71.80 L469.40,68.20 L472.30,70.60 L475.20,67.00 L478.40,69.40 L481.60,67.00 L485.00,67.00 L488.20,71.80 L491.30,69.40 L494.80,71.80 L497.35,69.83 L499.90,71.80 L503.50,67.00 L506.70,69.40 L510.10,76.70 L513.30,71.80 L517.00,75.50 L519.40,63.30 L523.00,64.50 L526.20,64.50 L529.10,69.40 L532.80,70.60 L535.20,71.80" fill="none" stroke="#92dc60" stroke-width="0.95"/>
<circle cx="334.40" cy="107.40" r="1.25" fill="none" stroke="#92dc60" stroke-width="0.6"/>
<circle cx="337.30" cy="102.60" r="1.25" fill="none" stroke="#92dc60" stroke-width="0.6"/>
<circle cx="340.20" cy="109.90" r="1.25" fill="none" stroke="#92dc60" stroke-width="0.6"/>
<circle cx="343.40" cy="102.60" r="1.25" fill="none" stroke="#92dc60" stroke-width="0.6"/>
<circle cx="346.60" cy="98.90" r="1.25" fill="none" stroke="#92dc60" stroke-width="0.6"/>
<circle cx="350.00" cy="103.80" r="1.25" fill="none" stroke="#92dc60" stroke-width="0.6"/>
<circle cx="353.20" cy="91.60" r="1.25" fill="none" stroke="#92dc60" stroke-width="0.6"/>
<circle cx="356.30" cy="86.70" r="1.25" fill="none" stroke="#92dc60" stroke-width="0.6"/>
<circle cx="359.30" cy="90.40" r="1.25" fill="none" stroke="#92dc60" stroke-width="0.6"/>
<circle cx="362.90" cy="95.20" r="1.25" fill="none" stroke="#92dc60" stroke-width="0.6"/>
<circle cx="366.60" cy="92.80" r="1.25" fill="none" stroke="#92dc60" stroke-width="0.6"/>
<circle cx="370.20" cy="95.20" r="1.25" fill="none" stroke="#92dc60" stroke-width="0.6"/>
<circle cx="373.90" cy="94.00" r="1.25" fill="none" stroke="#92dc60" stroke-width="0.6"/>
<circle cx="376.20" cy="91.50" r="1.25" fill="none" stroke="#92dc60" stroke-width="0.6"/>
<circle cx="379.40" cy="90.20" r="1.25" fill="none" stroke="#92dc60" stroke-width="0.6"/>
<circle cx="382.80" cy="87.80" r="1.25" fill="none" stroke="#92dc60" stroke-width="0.6"/>
<circle cx="386.00" cy="81.70" r="1.25" fill="none" stroke="#92dc60" stroke-width="0.6"/>
<circle cx="389.10" cy="81.70" r="1.25" fill="none" stroke="#92dc60" stroke-width="0.6"/>
<circle cx="392.60" cy="90.20" r="1.25" fill="none" stroke="#92dc60" stroke-width="0.6"/>
<circle cx="395.70" cy="95.10" r="1.25" fill="none" stroke="#92dc60" stroke-width="0.6"/>
<circle cx="398.90" cy="81.70" r="1.25" fill="none" stroke="#92dc60" stroke-width="0.6"/>
<circle cx="401.80" cy="86.60" r="1.25" fill="none" stroke="#92dc60" stroke-width="0.6"/>
<circle cx="404.80" cy="85.40" r="1.25" fill="none" stroke="#92dc60" stroke-width="0.6"/>
<circle cx="407.90" cy="57.30" r="1.25" fill="none" stroke="#92dc60" stroke-width="0.6"/>
<circle cx="411.10" cy="58.50" r="1.25" fill="none" stroke="#92dc60" stroke-width="0.6"/>
<circle cx="414.00" cy="75.60" r="1.25" fill="none" stroke="#92dc60" stroke-width="0.6"/>
<circle cx="417.00" cy="67.10" r="1.25" fill="none" stroke="#92dc60" stroke-width="0.6"/>
<circle cx="420.10" cy="69.50" r="1.25" fill="none" stroke="#92dc60" stroke-width="0.6"/>
<circle cx="424.40" cy="71.80" r="1.25" fill="none" stroke="#92dc60" stroke-width="0.6"/>
<circle cx="427.30" cy="74.30" r="1.25" fill="none" stroke="#92dc60" stroke-width="0.6"/>
<circle cx="430.20" cy="68.20" r="1.25" fill="none" stroke="#92dc60" stroke-width="0.6"/>
<circle cx="433.40" cy="62.10" r="1.25" fill="none" stroke="#92dc60" stroke-width="0.6"/>
<circle cx="436.60" cy="69.40" r="1.25" fill="none" stroke="#92dc60" stroke-width="0.6"/>
<circle cx="439.50" cy="69.40" r="1.25" fill="none" stroke="#92dc60" stroke-width="0.6"/>
<circle cx="442.40" cy="71.80" r="1.25" fill="none" stroke="#92dc60" stroke-width="0.6"/>
<circle cx="445.60" cy="74.30" r="1.25" fill="none" stroke="#92dc60" stroke-width="0.6"/>
<circle cx="448.80" cy="70.60" r="1.25" fill="none" stroke="#92dc60" stroke-width="0.6"/>
<circle cx="451.70" cy="68.20" r="1.25" fill="none" stroke="#92dc60" stroke-width="0.6"/>
<circle cx="455.40" cy="69.40" r="1.25" fill="none" stroke="#92dc60" stroke-width="0.6"/>
<circle cx="458.50" cy="71.80" r="1.25" fill="none" stroke="#92dc60" stroke-width="0.6"/>
<circle cx="462.00" cy="73.00" r="1.25" fill="none" stroke="#92dc60" stroke-width="0.6"/>
<circle cx="465.10" cy="71.80" r="1.25" fill="none" stroke="#92dc60" stroke-width="0.6"/>
<circle cx="469.40" cy="68.20" r="1.25" fill="none" stroke="#92dc60" stroke-width="0.6"/>
<circle cx="472.30" cy="70.60" r="1.25" fill="none" stroke="#92dc60" stroke-width="0.6"/>
<circle cx="475.20" cy="67.00" r="1.25" fill="none" stroke="#92dc60" stroke-width="0.6"/>
<circle cx="478.40" cy="69.40" r="1.25" fill="none" stroke="#92dc60" stroke-width="0.6"/>
<circle cx="481.60" cy="67.00" r="1.25" fill="none" stroke="#92dc60" stroke-width="0.6"/>
<circle cx="485.00" cy="67.00" r="1.25" fill="none" stroke="#92dc60" stroke-width="0.6"/>
<circle cx="488.20" cy="71.80" r="1.25" fill="none" stroke="#92dc60" stroke-width="0.6"/>
<circle cx="491.30" cy="69.40" r="1.25" fill="none" stroke="#92dc60" stroke-width="0.6"/>
<circle cx="494.80" cy="71.80" r="1.25" fill="none" stroke="#92dc60" stroke-width="0.6"/>
<circle cx="497.35" cy="69.83" r="1.25" fill="none" stroke="#92dc60" stroke-width="0.6"/>
<circle cx="499.90" cy="71.80" r="1.25" fill="none" stroke="#92dc60" stroke-width="0.6"/>
<circle cx="503.50" cy="67.00" r="1.25" fill="none" stroke="#92dc60" stroke-width="0.6"/>
<circle cx="506.70" cy="69.40" r="1.25" fill="none" stroke="#92dc60" stroke-width="0.6"/>
<circle cx="510.10" cy="76.70" r="1.25" fill="none" stroke="#92dc60" stroke-width="0.6"/>
<circle cx="513.30" cy="71.80" r="1.25" fill="none" stroke="#92dc60" stroke-width="0.6"/>
<circle cx="517.00" cy="75.50" r="1.25" fill="none" stroke="#92dc60" stroke-width="0.6"/>
<circle cx="519.40" cy="63.30" r="1.25" fill="none" stroke="#92dc60" stroke-width="0.6"/>
<circle cx="523.00" cy="64.50" r="1.25" fill="none" stroke="#92dc60" stroke-width="0.6"/>
<circle cx="526.20" cy="64.50" r="1.25" fill="none" stroke="#92dc60" stroke-width="0.6"/>
<circle cx="529.10" cy="69.40" r="1.25" fill="none" stroke="#92dc60" stroke-width="0.6"/>
<circle cx="532.80" cy="70.60" r="1.25" fill="none" stroke="#92dc60" stroke-width="0.6"/>
<circle cx="535.20" cy="71.80" r="1.25" fill="none" stroke="#92dc60" stroke-width="0.6"/>
<path d="M334.40,103.80 L337.80,100.10 L341.00,97.70 L343.40,94.00 L346.60,93.50 L349.50,87.90 L352.40,84.30 L355.60,86.70 L358.80,91.60 L361.70,90.40 L365.40,89.10 L368.50,87.90 L371.00,67.20 L373.90,86.70 L376.20,89.00 L379.40,92.70 L382.80,93.90 L386.00,82.90 L389.10,86.60 L392.60,92.70 L395.70,89.00 L398.90,82.90 L401.80,92.70 L404.80,86.60 L407.90,61.00 L411.10,64.60 L414.00,72.00 L417.00,59.80 L420.10,68.30 L424.40,64.50 L427.30,70.60 L430.20,68.20 L433.40,63.30 L436.60,69.40 L439.50,70.60 L442.40,68.20 L445.60,69.40 L448.80,64.50 L451.70,65.70 L455.40,71.80 L458.50,65.70 L462.00,69.40 L465.10,70.60 L467.60,60.90 L469.40,67.00 L472.30,64.50 L475.20,64.50 L478.40,62.10 L482.10,57.20 L485.70,62.10 L489.40,58.40 L492.30,67.00 L494.80,73.92 L497.30,85.10 L501.00,71.70 L504.60,64.40 L507.05,73.83 L509.50,76.60 L513.20,80.20 L517.00,81.60 L519.40,95.00 L522.30,82.80 L525.50,80.40 L528.70,82.80 L531.60,76.70 L534.50,79.10" fill="none" stroke="#a858cc" stroke-width="0.95"/>
<circle cx="334.40" cy="103.80" r="1.25" fill="none" stroke="#a858cc" stroke-width="0.6"/>
<circle cx="337.80" cy="100.10" r="1.25" fill="none" stroke="#a858cc" stroke-width="0.6"/>
<circle cx="341.00" cy="97.70" r="1.25" fill="none" stroke="#a858cc" stroke-width="0.6"/>
<circle cx="343.40" cy="94.00" r="1.25" fill="none" stroke="#a858cc" stroke-width="0.6"/>
<circle cx="346.60" cy="93.50" r="1.25" fill="none" stroke="#a858cc" stroke-width="0.6"/>
<circle cx="349.50" cy="87.90" r="1.25" fill="none" stroke="#a858cc" stroke-width="0.6"/>
<circle cx="352.40" cy="84.30" r="1.25" fill="none" stroke="#a858cc" stroke-width="0.6"/>
<circle cx="355.60" cy="86.70" r="1.25" fill="none" stroke="#a858cc" stroke-width="0.6"/>
<circle cx="358.80" cy="91.60" r="1.25" fill="none" stroke="#a858cc" stroke-width="0.6"/>
<circle cx="361.70" cy="90.40" r="1.25" fill="none" stroke="#a858cc" stroke-width="0.6"/>
<circle cx="365.40" cy="89.10" r="1.25" fill="none" stroke="#a858cc" stroke-width="0.6"/>
<circle cx="368.50" cy="87.90" r="1.25" fill="none" stroke="#a858cc" stroke-width="0.6"/>
<circle cx="371.00" cy="67.20" r="1.25" fill="none" stroke="#a858cc" stroke-width="0.6"/>
<circle cx="373.90" cy="86.70" r="1.25" fill="none" stroke="#a858cc" stroke-width="0.6"/>
<circle cx="376.20" cy="89.00" r="1.25" fill="none" stroke="#a858cc" stroke-width="0.6"/>
<circle cx="379.40" cy="92.70" r="1.25" fill="none" stroke="#a858cc" stroke-width="0.6"/>
<circle cx="382.80" cy="93.90" r="1.25" fill="none" stroke="#a858cc" stroke-width="0.6"/>
<circle cx="386.00" cy="82.90" r="1.25" fill="none" stroke="#a858cc" stroke-width="0.6"/>
<circle cx="389.10" cy="86.60" r="1.25" fill="none" stroke="#a858cc" stroke-width="0.6"/>
<circle cx="392.60" cy="92.70" r="1.25" fill="none" stroke="#a858cc" stroke-width="0.6"/>
<circle cx="395.70" cy="89.00" r="1.25" fill="none" stroke="#a858cc" stroke-width="0.6"/>
<circle cx="398.90" cy="82.90" r="1.25" fill="none" stroke="#a858cc" stroke-width="0.6"/>
<circle cx="401.80" cy="92.70" r="1.25" fill="none" stroke="#a858cc" stroke-width="0.6"/>
<circle cx="404.80" cy="86.60" r="1.25" fill="none" stroke="#a858cc" stroke-width="0.6"/>
<circle cx="407.90" cy="61.00" r="1.25" fill="none" stroke="#a858cc" stroke-width="0.6"/>
<circle cx="411.10" cy="64.60" r="1.25" fill="none" stroke="#a858cc" stroke-width="0.6"/>
<circle cx="414.00" cy="72.00" r="1.25" fill="none" stroke="#a858cc" stroke-width="0.6"/>
<circle cx="417.00" cy="59.80" r="1.25" fill="none" stroke="#a858cc" stroke-width="0.6"/>
<circle cx="420.10" cy="68.30" r="1.25" fill="none" stroke="#a858cc" stroke-width="0.6"/>
<circle cx="424.40" cy="64.50" r="1.25" fill="none" stroke="#a858cc" stroke-width="0.6"/>
<circle cx="427.30" cy="70.60" r="1.25" fill="none" stroke="#a858cc" stroke-width="0.6"/>
<circle cx="430.20" cy="68.20" r="1.25" fill="none" stroke="#a858cc" stroke-width="0.6"/>
<circle cx="433.40" cy="63.30" r="1.25" fill="none" stroke="#a858cc" stroke-width="0.6"/>
<circle cx="436.60" cy="69.40" r="1.25" fill="none" stroke="#a858cc" stroke-width="0.6"/>
<circle cx="439.50" cy="70.60" r="1.25" fill="none" stroke="#a858cc" stroke-width="0.6"/>
<circle cx="442.40" cy="68.20" r="1.25" fill="none" stroke="#a858cc" stroke-width="0.6"/>
<circle cx="445.60" cy="69.40" r="1.25" fill="none" stroke="#a858cc" stroke-width="0.6"/>
<circle cx="448.80" cy="64.50" r="1.25" fill="none" stroke="#a858cc" stroke-width="0.6"/>
<circle cx="451.70" cy="65.70" r="1.25" fill="none" stroke="#a858cc" stroke-width="0.6"/>
<circle cx="455.40" cy="71.80" r="1.25" fill="none" stroke="#a858cc" stroke-width="0.6"/>
<circle cx="458.50" cy="65.70" r="1.25" fill="none" stroke="#a858cc" stroke-width="0.6"/>
<circle cx="462.00" cy="69.40" r="1.25" fill="none" stroke="#a858cc" stroke-width="0.6"/>
<circle cx="465.10" cy="70.60" r="1.25" fill="none" stroke="#a858cc" stroke-width="0.6"/>
<circle cx="467.60" cy="60.90" r="1.25" fill="none" stroke="#a858cc" stroke-width="0.6"/>
<circle cx="469.40" cy="67.00" r="1.25" fill="none" stroke="#a858cc" stroke-width="0.6"/>
<circle cx="472.30" cy="64.50" r="1.25" fill="none" stroke="#a858cc" stroke-width="0.6"/>
<circle cx="475.20" cy="64.50" r="1.25" fill="none" stroke="#a858cc" stroke-width="0.6"/>
<circle cx="478.40" cy="62.10" r="1.25" fill="none" stroke="#a858cc" stroke-width="0.6"/>
<circle cx="482.10" cy="57.20" r="1.25" fill="none" stroke="#a858cc" stroke-width="0.6"/>
<circle cx="485.70" cy="62.10" r="1.25" fill="none" stroke="#a858cc" stroke-width="0.6"/>
<circle cx="489.40" cy="58.40" r="1.25" fill="none" stroke="#a858cc" stroke-width="0.6"/>
<circle cx="492.30" cy="67.00" r="1.25" fill="none" stroke="#a858cc" stroke-width="0.6"/>
<circle cx="494.80" cy="73.92" r="1.25" fill="none" stroke="#a858cc" stroke-width="0.6"/>
<circle cx="497.30" cy="85.10" r="1.25" fill="none" stroke="#a858cc" stroke-width="0.6"/>
<circle cx="501.00" cy="71.70" r="1.25" fill="none" stroke="#a858cc" stroke-width="0.6"/>
<circle cx="504.60" cy="64.40" r="1.25" fill="none" stroke="#a858cc" stroke-width="0.6"/>
<circle cx="507.05" cy="73.83" r="1.25" fill="none" stroke="#a858cc" stroke-width="0.6"/>
<circle cx="509.50" cy="76.60" r="1.25" fill="none" stroke="#a858cc" stroke-width="0.6"/>
<circle cx="513.20" cy="80.20" r="1.25" fill="none" stroke="#a858cc" stroke-width="0.6"/>
<circle cx="517.00" cy="81.60" r="1.25" fill="none" stroke="#a858cc" stroke-width="0.6"/>
<circle cx="519.40" cy="95.00" r="1.25" fill="none" stroke="#a858cc" stroke-width="0.6"/>
<circle cx="522.30" cy="82.80" r="1.25" fill="none" stroke="#a858cc" stroke-width="0.6"/>
<circle cx="525.50" cy="80.40" r="1.25" fill="none" stroke="#a858cc" stroke-width="0.6"/>
<circle cx="528.70" cy="82.80" r="1.25" fill="none" stroke="#a858cc" stroke-width="0.6"/>
<circle cx="531.60" cy="76.70" r="1.25" fill="none" stroke="#a858cc" stroke-width="0.6"/>
<circle cx="534.50" cy="79.10" r="1.25" fill="none" stroke="#a858cc" stroke-width="0.6"/>
<path d="M352.20,129.87 L354.20,129.76 L356.70,129.62 L358.70,129.50 L361.20,129.35 L363.70,129.19 L365.70,129.05 L368.20,128.87 L370.70,128.68 L372.70,128.52 L375.20,128.32 L377.70,128.11 L379.70,127.93 L382.20,127.71 L384.70,127.47 L386.70,127.28 L389.20,127.04 L391.20,126.83 L393.70,126.58 L396.20,126.31 L398.20,126.09 L400.70,125.81 L403.20,125.52 L405.20,125.28 L407.70,124.97 L410.20,124.65 L412.20,124.38 L414.70,124.03 L417.20,123.68 L419.20,123.39 L421.70,123.02 L424.20,122.64 L426.20,122.34 L428.70,121.96 L430.70,121.65 L433.20,121.27 L435.70,120.89 L437.70,120.60 L440.20,120.25 L442.70,119.92 L444.70,119.69 L447.20,119.43 L449.70,119.23 L451.70,119.11 L454.20,119.02 L456.70,118.99 L458.70,119.01 L461.20,119.08 L463.20,119.17 L465.70,119.32 L468.20,119.50 L470.20,119.67 L472.70,119.88 L475.20,120.11 L477.20,120.29 L479.70,120.52 L482.20,120.76 L484.20,120.95 L486.70,121.19 L489.20,121.44 L491.20,121.63 L493.70,121.88 L496.20,122.13 L498.20,122.34 L500.70,122.60 L502.70,122.81 L505.20,123.07 L507.70,123.34 L509.70,123.56 L512.20,123.84 L514.70,124.12 L516.70,124.35 L519.20,124.63 L521.70,124.92 L523.70,125.16 L526.20,125.46 L528.70,125.76 L530.70,126.00 L533.20,126.30 L535.70,126.61" fill="none" stroke="#000000" stroke-width="2.05" stroke-linecap="butt"/>
<path d="M334.00,104.91 L336.50,104.18 L339.00,103.46 L341.50,102.74 L344.00,102.02 L346.50,101.30 L349.00,100.59 L351.50,99.89 L354.00,99.18 L356.50,98.48 L359.50,97.64 L362.00,96.94 L364.50,96.25 L367.00,95.56 L369.50,94.87 L372.00,94.19 L374.50,93.53 L377.00,92.87 L379.50,92.23 L382.00,91.61 L385.00,90.89 L387.50,90.31 L390.00,89.76 L392.50,89.23 L395.00,88.72 L397.50,88.23 L400.00,87.75 L402.50,87.29 L405.00,86.85 L407.50,86.42 L410.50,85.91 L413.00,85.50 L415.50,85.09 L418.00,84.69 L420.50,84.30 L423.00,83.91 L425.50,83.54 L428.00,83.18 L430.50,82.84 L433.00,82.53 L436.00,82.19 L438.50,81.96 L441.00,81.76 L443.50,81.60 L446.00,81.46 L448.50,81.36 L451.00,81.28 L453.50,81.21 L456.00,81.16 L458.50,81.12 L461.50,81.09 L464.00,81.07 L466.50,81.05 L469.00,81.05 L471.50,81.04 L474.00,81.05 L476.50,81.06 L479.00,81.08 L481.50,81.10 L484.00,81.12 L487.00,81.15 L489.50,81.17 L492.00,81.19 L494.50,81.22 L497.00,81.23 L499.50,81.25 L502.00,81.27 L504.50,81.28 L507.00,81.28 L509.50,81.29 L512.50,81.29 L515.00,81.30 L517.50,81.30 L520.00,81.30 L522.50,81.30 L525.00,81.30 L527.50,81.30 L530.00,81.30 L532.50,81.30 L535.50,81.30" fill="none" stroke="#ee2a2a" stroke-width="2.05" stroke-linecap="butt"/>
<path d="M334.00,100.40 L336.50,99.71 L339.00,99.01 L341.50,98.32 L344.00,97.62 L346.50,96.93 L349.00,96.24 L351.50,95.55 L354.00,94.86 L356.50,94.16 L359.50,93.33 L362.00,92.64 L364.50,91.95 L367.00,91.26 L369.50,90.57 L372.00,89.88 L374.50,89.19 L377.00,88.51 L379.50,87.84 L382.00,87.17 L385.00,86.38 L387.50,85.74 L390.00,85.11 L392.50,84.49 L395.00,83.88 L397.50,83.29 L400.00,82.70 L402.50,82.12 L405.00,81.54 L407.50,80.95 L410.50,80.23 L413.00,79.60 L415.50,78.95 L418.00,78.26 L420.50,77.53 L423.00,76.77 L425.50,75.97 L428.00,75.16 L430.50,74.36 L433.00,73.59 L436.00,72.73 L438.50,72.11 L441.00,71.58 L443.50,71.14 L446.00,70.78 L448.50,70.51 L451.00,70.29 L453.50,70.13 L456.00,70.00 L458.50,69.91 L461.50,69.84 L464.00,69.81 L466.50,69.81 L469.00,69.84 L471.50,69.91 L474.00,70.02 L476.50,70.17 L479.00,70.36 L481.50,70.59 L484.00,70.86 L487.00,71.21 L489.50,71.54 L492.00,71.88 L494.50,72.24 L497.00,72.60 L499.50,72.96 L502.00,73.32 L504.50,73.68 L507.00,74.04 L509.50,74.40 L512.50,74.82 L515.00,75.18 L517.50,75.53 L520.00,75.89 L522.50,76.26 L525.00,76.62 L527.50,76.99 L530.00,77.37 L532.50,77.74 L535.50,78.19" fill="none" stroke="#8a1ca0" stroke-width="2.05" stroke-linecap="butt"/>
<path d="M334.00,107.55 L336.50,106.40 L339.00,105.26 L341.50,104.13 L344.00,103.02 L346.50,101.94 L349.00,100.87 L351.50,99.83 L354.00,98.81 L356.50,97.81 L359.50,96.65 L362.00,95.71 L364.50,94.79 L367.00,93.89 L369.50,93.02 L372.00,92.16 L374.50,91.33 L377.00,90.51 L379.50,89.70 L382.00,88.92 L385.00,88.00 L387.50,87.24 L390.00,86.51 L392.50,85.79 L395.00,85.08 L397.50,84.39 L400.00,83.71 L402.50,83.04 L405.00,82.38 L407.50,81.72 L410.50,80.93 L413.00,80.26 L415.50,79.59 L418.00,78.90 L420.50,78.20 L423.00,77.49 L425.50,76.77 L428.00,76.06 L430.50,75.37 L433.00,74.72 L436.00,74.00 L438.50,73.47 L441.00,73.01 L443.50,72.62 L446.00,72.30 L448.50,72.03 L451.00,71.82 L453.50,71.64 L456.00,71.49 L458.50,71.37 L461.50,71.26 L464.00,71.19 L466.50,71.14 L469.00,71.11 L471.50,71.09 L474.00,71.09 L476.50,71.09 L479.00,71.11 L481.50,71.13 L484.00,71.16 L487.00,71.19 L489.50,71.23 L492.00,71.26 L494.50,71.29 L497.00,71.31 L499.50,71.34 L502.00,71.35 L504.50,71.37 L507.00,71.38 L509.50,71.39 L512.50,71.39 L515.00,71.40 L517.50,71.40 L520.00,71.40 L522.50,71.40 L525.00,71.40 L527.50,71.40 L530.00,71.40 L532.50,71.40 L535.50,71.40" fill="none" stroke="#70d030" stroke-width="2.05" stroke-linecap="butt"/>
<path d="M334.00,134.50 L336.50,133.82 L339.00,133.15 L341.50,132.47 L344.00,131.79 L346.50,131.12 L349.00,130.45 L351.50,129.78 L354.00,129.11 L356.50,128.44 L359.50,127.64 L362.00,126.97 L364.50,126.31 L367.00,125.64 L369.50,124.98 L372.00,124.32 L374.50,123.65 L377.00,122.99 L379.50,122.34 L382.00,121.68 L385.00,120.90 L387.50,120.25 L390.00,119.60 L392.50,118.96 L395.00,118.32 L397.50,117.69 L400.00,117.06 L402.50,116.44 L405.00,115.81 L407.50,115.20 L410.50,114.46 L413.00,113.86 L415.50,113.26 L418.00,112.68 L420.50,112.11 L423.00,111.56 L425.50,111.02 L428.00,110.50 L430.50,110.00 L433.00,109.51 L436.00,108.96 L438.50,108.53 L441.00,108.12 L443.50,107.75 L446.00,107.42 L448.50,107.14 L451.00,106.89 L453.50,106.69 L456.00,106.54 L458.50,106.41 L461.50,106.31 L464.00,106.24 L466.50,106.20 L469.00,106.16 L471.50,106.13 L474.00,106.11 L476.50,106.09 L479.00,106.07 L481.50,106.06 L484.00,106.04 L487.00,106.01 L489.50,105.99 L492.00,105.97 L494.50,105.94 L497.00,105.90 L499.50,105.86 L502.00,105.82 L504.50,105.76 L507.00,105.70 L509.50,105.64 L512.50,105.55 L515.00,105.47 L517.50,105.38 L520.00,105.28 L522.50,105.18 L525.00,105.08 L527.50,104.97 L530.00,104.86 L532.50,104.74 L535.50,104.60" fill="none" stroke="#ff8050" stroke-width="2.05" stroke-linecap="butt"/>
<line x1="333.4" y1="170.3" x2="344.4" y2="170.3" stroke="#3a3a3a" stroke-width="1.9"/>
<text transform="translate(349.8,172.4) scale(1,1.2)" font-size="5.8" fill="#3a3a3a">StJohns (NL)</text>
<line x1="333.4" y1="177.4" x2="344.4" y2="177.4" stroke="#ee2a2a" stroke-width="1.9"/>
<text transform="translate(349.8,179.5) scale(1,1.2)" font-size="5.8" fill="#3a3a3a">Charlottetown (PE)</text>
<line x1="403" y1="170.3" x2="415" y2="170.3" stroke="#8a1ca0" stroke-width="1.9"/>
<text transform="translate(418.8,172.4) scale(1,1.2)" font-size="5.8" fill="#3a3a3a">Moncton (NB)</text>
<line x1="403" y1="177.4" x2="415" y2="177.4" stroke="#70d030" stroke-width="1.9"/>
<text transform="translate(418.8,179.5) scale(1,1.2)" font-size="5.8" fill="#3a3a3a">Greenwood (NS)</text>
<line x1="473.9" y1="170.3" x2="484.9" y2="170.3" stroke="#ff8050" stroke-width="1.9"/>
<text transform="translate(489.8,172.4) scale(1,1.2)" font-size="5.8" fill="#3a3a3a">Yarmouth (NS)</text>
<text transform="translate(347.6,14.0) scale(1,1.0)" font-size="8.93" font-weight="bold" fill="#111">AFTER NOON MAXIMA TIMING (COW<tspan font-size="7.6" dy="2.3" dx="0.4">N-D</tspan><tspan dy="-2.3" dx="0.3">)</tspan></text>
<text transform="translate(307.2,105.6) rotate(-90) scale(1,1.2)" font-size="5.87" font-weight="bold" fill="#111" text-anchor="middle">ANM Occurence Time (h LST)</text>
<text transform="translate(434.9,207.9) scale(1,1.2)" font-size="5.75" font-weight="bold" fill="#111" text-anchor="middle">Time (years)</text>
<text transform="translate(435.2,216.7) scale(1,1.12)" font-size="7.45" font-weight="bold" font-style="italic" fill="#7f7f7f" text-anchor="middle">Atlantic Canada Climate Region (1953/59-2018)</text>
<text x="427.8" y="241.0" font-size="10.8" font-weight="bold" fill="#111" text-anchor="middle" style="font-family:&quot;Liberation Serif&quot;,serif">(b)</text>
</svg></body></html>
